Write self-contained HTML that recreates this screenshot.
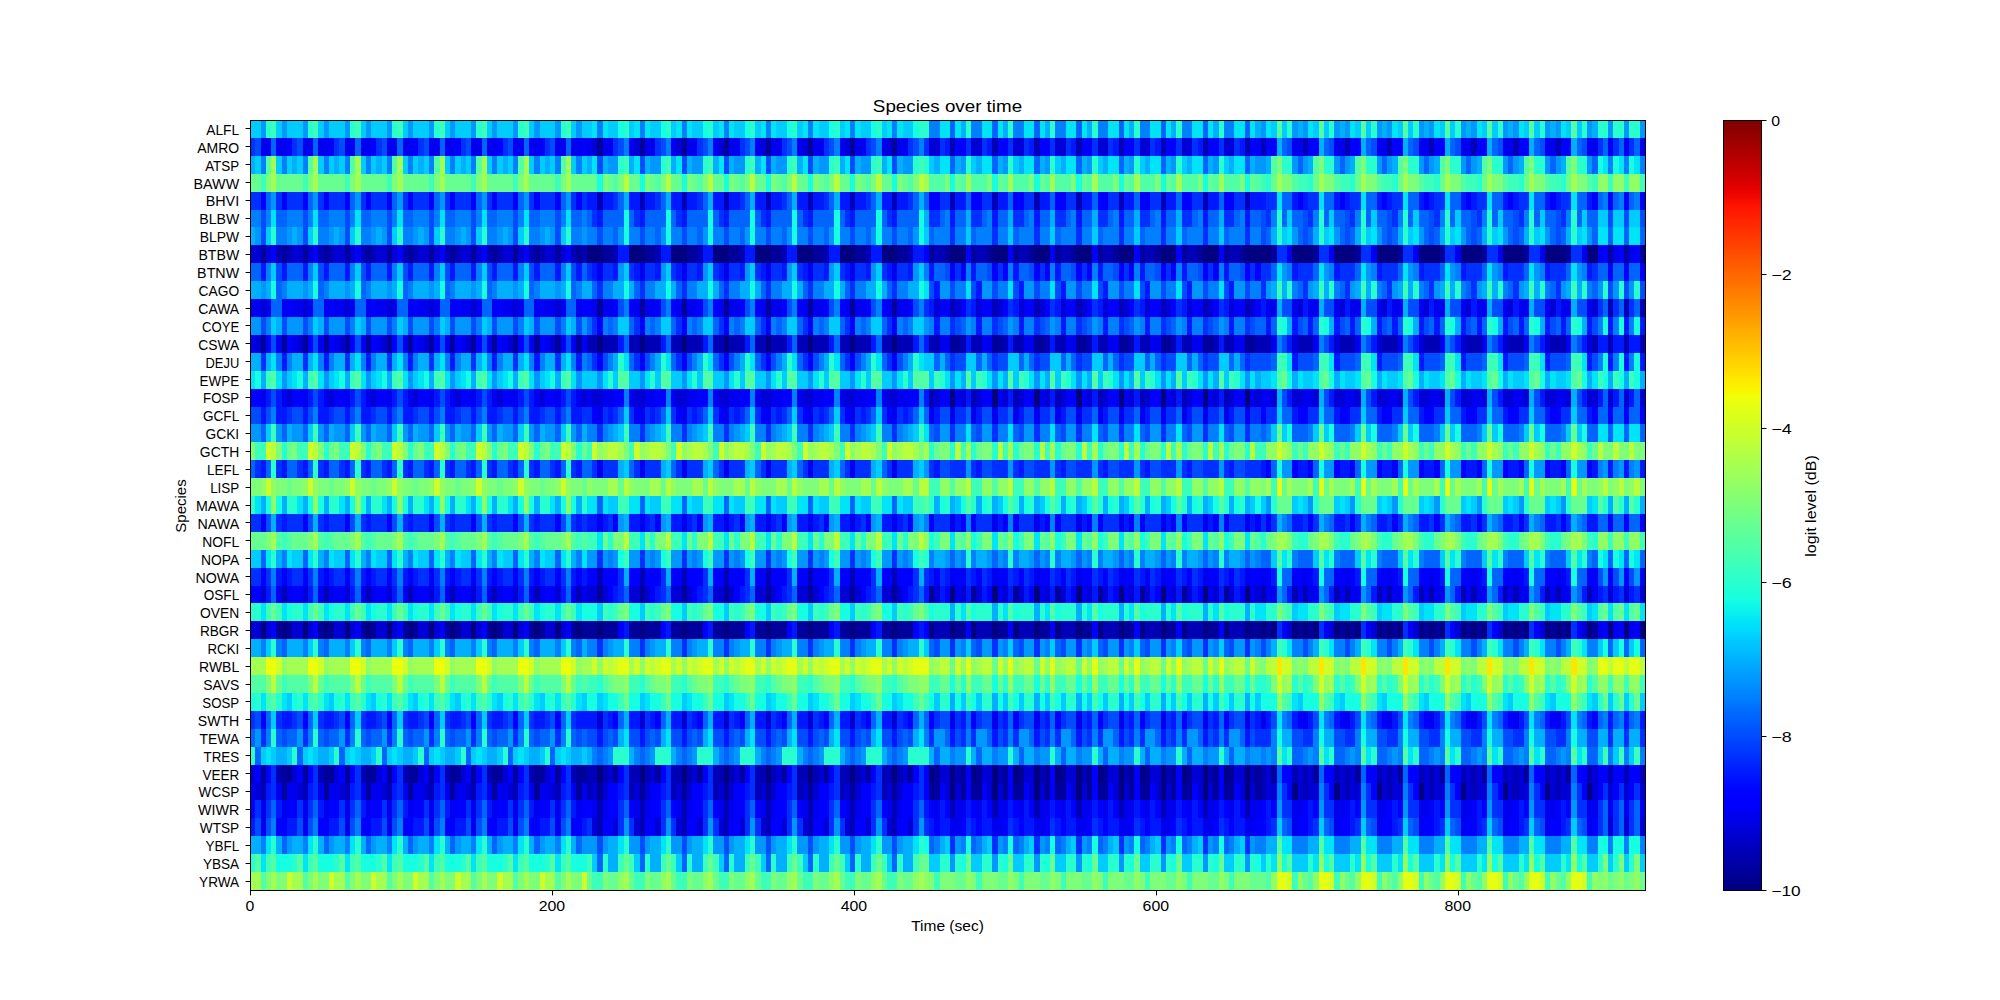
<!DOCTYPE html><html><head><meta charset="utf-8"><title>Species over time</title>
<style>html,body{margin:0;padding:0;background:#fff}svg{display:block}text{font-family:"Liberation Sans",sans-serif;fill:#000}</style></head><body>
<svg width="2000" height="1000" viewBox="0 0 2000 1000">
<rect width="2000" height="1000" fill="#fff"/>
<defs><linearGradient id="cb" x1="0" y1="0" x2="0" y2="1"><stop offset="0.00" stop-color="#800000"/><stop offset="0.01" stop-color="#890000"/><stop offset="0.02" stop-color="#960000"/><stop offset="0.03" stop-color="#9f0000"/><stop offset="0.04" stop-color="#ad0000"/><stop offset="0.05" stop-color="#b60000"/><stop offset="0.06" stop-color="#c40000"/><stop offset="0.07" stop-color="#cd0000"/><stop offset="0.08" stop-color="#da0000"/><stop offset="0.09" stop-color="#e80000"/><stop offset="0.10" stop-color="#f10800"/><stop offset="0.11" stop-color="#ff1300"/><stop offset="0.12" stop-color="#ff1a00"/><stop offset="0.13" stop-color="#ff2500"/><stop offset="0.14" stop-color="#ff2d00"/><stop offset="0.15" stop-color="#ff3800"/><stop offset="0.16" stop-color="#ff3f00"/><stop offset="0.17" stop-color="#ff4a00"/><stop offset="0.18" stop-color="#ff5500"/><stop offset="0.19" stop-color="#ff5d00"/><stop offset="0.20" stop-color="#ff6800"/><stop offset="0.21" stop-color="#ff6f00"/><stop offset="0.22" stop-color="#ff7a00"/><stop offset="0.23" stop-color="#ff8200"/><stop offset="0.24" stop-color="#ff8d00"/><stop offset="0.25" stop-color="#ff9400"/><stop offset="0.26" stop-color="#ff9f00"/><stop offset="0.27" stop-color="#ffab00"/><stop offset="0.28" stop-color="#ffb200"/><stop offset="0.29" stop-color="#ffbd00"/><stop offset="0.30" stop-color="#ffc400"/><stop offset="0.31" stop-color="#ffd000"/><stop offset="0.32" stop-color="#ffd700"/><stop offset="0.33" stop-color="#ffe200"/><stop offset="0.34" stop-color="#feed00"/><stop offset="0.35" stop-color="#f8f500"/><stop offset="0.36" stop-color="#eeff09"/><stop offset="0.37" stop-color="#e7ff0f"/><stop offset="0.38" stop-color="#deff19"/><stop offset="0.39" stop-color="#d7ff1f"/><stop offset="0.40" stop-color="#ceff29"/><stop offset="0.41" stop-color="#c7ff30"/><stop offset="0.42" stop-color="#beff39"/><stop offset="0.43" stop-color="#b4ff43"/><stop offset="0.44" stop-color="#adff49"/><stop offset="0.45" stop-color="#a4ff53"/><stop offset="0.46" stop-color="#9dff5a"/><stop offset="0.47" stop-color="#94ff63"/><stop offset="0.48" stop-color="#8dff6a"/><stop offset="0.49" stop-color="#83ff73"/><stop offset="0.50" stop-color="#7dff7a"/><stop offset="0.51" stop-color="#73ff83"/><stop offset="0.52" stop-color="#6aff8d"/><stop offset="0.53" stop-color="#63ff94"/><stop offset="0.54" stop-color="#5aff9d"/><stop offset="0.55" stop-color="#53ffa4"/><stop offset="0.56" stop-color="#49ffad"/><stop offset="0.57" stop-color="#43ffb4"/><stop offset="0.58" stop-color="#39ffbe"/><stop offset="0.59" stop-color="#30ffc7"/><stop offset="0.60" stop-color="#29ffce"/><stop offset="0.61" stop-color="#1fffd7"/><stop offset="0.62" stop-color="#19ffde"/><stop offset="0.63" stop-color="#0ff8e7"/><stop offset="0.64" stop-color="#09f0ee"/><stop offset="0.65" stop-color="#00e4f8"/><stop offset="0.66" stop-color="#00dcfe"/><stop offset="0.67" stop-color="#00d0ff"/><stop offset="0.68" stop-color="#00c4ff"/><stop offset="0.69" stop-color="#00bcff"/><stop offset="0.70" stop-color="#00b0ff"/><stop offset="0.71" stop-color="#00a8ff"/><stop offset="0.72" stop-color="#009cff"/><stop offset="0.73" stop-color="#0094ff"/><stop offset="0.74" stop-color="#0088ff"/><stop offset="0.75" stop-color="#0080ff"/><stop offset="0.76" stop-color="#0074ff"/><stop offset="0.77" stop-color="#0068ff"/><stop offset="0.78" stop-color="#0060ff"/><stop offset="0.79" stop-color="#0054ff"/><stop offset="0.80" stop-color="#004cff"/><stop offset="0.81" stop-color="#0040ff"/><stop offset="0.82" stop-color="#0038ff"/><stop offset="0.83" stop-color="#002cff"/><stop offset="0.84" stop-color="#0020ff"/><stop offset="0.85" stop-color="#0018ff"/><stop offset="0.86" stop-color="#000cff"/><stop offset="0.87" stop-color="#0004ff"/><stop offset="0.88" stop-color="#0000ff"/><stop offset="0.89" stop-color="#0000ff"/><stop offset="0.90" stop-color="#0000f1"/><stop offset="0.91" stop-color="#0000e8"/><stop offset="0.92" stop-color="#0000da"/><stop offset="0.93" stop-color="#0000cd"/><stop offset="0.94" stop-color="#0000c4"/><stop offset="0.95" stop-color="#0000b6"/><stop offset="0.96" stop-color="#0000ad"/><stop offset="0.97" stop-color="#00009f"/><stop offset="0.98" stop-color="#000096"/><stop offset="0.99" stop-color="#000089"/><stop offset="1.00" stop-color="#000080"/></linearGradient></defs>
<defs>
<g id="clipA">
<rect x="0.000" y="120" width="11.128" height="18" fill="#00ccff"/>
<rect x="10.528" y="120" width="5.864" height="18" fill="#0098ff"/>
<rect x="15.792" y="120" width="5.864" height="18" fill="#29ffce"/>
<rect x="21.057" y="120" width="5.864" height="18" fill="#3cffba"/>
<rect x="26.321" y="120" width="5.864" height="18" fill="#00ccff"/>
<rect x="31.585" y="120" width="5.864" height="18" fill="#0098ff"/>
<rect x="36.849" y="120" width="5.864" height="18" fill="#00ccff"/>
<rect x="0.000" y="138" width="5.864" height="18" fill="#0030ff"/>
<rect x="5.264" y="138" width="5.864" height="18" fill="#004cff"/>
<rect x="10.528" y="138" width="11.128" height="18" fill="#0000f1"/>
<rect x="21.057" y="138" width="5.864" height="18" fill="#0064ff"/>
<rect x="26.321" y="138" width="11.128" height="18" fill="#0000f1"/>
<rect x="36.849" y="138" width="5.864" height="18" fill="#0000ff"/>
<rect x="0.000" y="156" width="5.864" height="18" fill="#00b0ff"/>
<rect x="5.264" y="156" width="5.864" height="18" fill="#00ccff"/>
<rect x="10.528" y="156" width="5.864" height="18" fill="#0080ff"/>
<rect x="15.792" y="156" width="5.864" height="18" fill="#53ffa4"/>
<rect x="21.057" y="156" width="5.864" height="18" fill="#a4ff53"/>
<rect x="26.321" y="156" width="5.864" height="18" fill="#00ccff"/>
<rect x="31.585" y="156" width="5.864" height="18" fill="#0080ff"/>
<rect x="36.849" y="156" width="5.864" height="18" fill="#00ccff"/>
<rect x="0.000" y="174" width="11.128" height="18" fill="#66ff90"/>
<rect x="10.528" y="174" width="5.864" height="18" fill="#3cffba"/>
<rect x="15.792" y="174" width="5.864" height="18" fill="#7dff7a"/>
<rect x="21.057" y="174" width="5.864" height="18" fill="#a4ff53"/>
<rect x="26.321" y="174" width="16.392" height="18" fill="#66ff90"/>
<rect x="0.000" y="192" width="11.128" height="18" fill="#0030ff"/>
<rect x="10.528" y="192" width="5.864" height="18" fill="#0000ff"/>
<rect x="15.792" y="192" width="5.864" height="18" fill="#0064ff"/>
<rect x="21.057" y="192" width="5.864" height="18" fill="#0098ff"/>
<rect x="26.321" y="192" width="5.864" height="18" fill="#0030ff"/>
<rect x="31.585" y="192" width="5.864" height="18" fill="#0000ff"/>
<rect x="36.849" y="192" width="5.864" height="18" fill="#0030ff"/>
<rect x="0.000" y="210" width="11.128" height="17" fill="#0080ff"/>
<rect x="10.528" y="210" width="5.864" height="17" fill="#004cff"/>
<rect x="15.792" y="210" width="5.864" height="17" fill="#0080ff"/>
<rect x="21.057" y="210" width="5.864" height="17" fill="#00e4f8"/>
<rect x="26.321" y="210" width="11.128" height="17" fill="#0064ff"/>
<rect x="36.849" y="210" width="5.864" height="17" fill="#0080ff"/>
<rect x="0.000" y="227" width="5.864" height="18" fill="#00b0ff"/>
<rect x="5.264" y="227" width="5.864" height="18" fill="#0098ff"/>
<rect x="10.528" y="227" width="5.864" height="18" fill="#004cff"/>
<rect x="15.792" y="227" width="5.864" height="18" fill="#00ccff"/>
<rect x="21.057" y="227" width="5.864" height="18" fill="#29ffce"/>
<rect x="26.321" y="227" width="11.128" height="18" fill="#0080ff"/>
<rect x="36.849" y="227" width="5.864" height="18" fill="#0098ff"/>
<rect x="0.000" y="245" width="11.128" height="18" fill="#0000d6"/>
<rect x="10.528" y="245" width="5.864" height="18" fill="#00009b"/>
<rect x="15.792" y="245" width="5.864" height="18" fill="#0000d6"/>
<rect x="21.057" y="245" width="5.864" height="18" fill="#0000ff"/>
<rect x="26.321" y="245" width="5.864" height="18" fill="#0000b6"/>
<rect x="31.585" y="245" width="5.864" height="18" fill="#00009b"/>
<rect x="36.849" y="245" width="5.864" height="18" fill="#0000b6"/>
<rect x="0.000" y="263" width="11.128" height="18" fill="#0064ff"/>
<rect x="10.528" y="263" width="5.864" height="18" fill="#0018ff"/>
<rect x="15.792" y="263" width="5.864" height="18" fill="#0080ff"/>
<rect x="21.057" y="263" width="5.864" height="18" fill="#00ccff"/>
<rect x="26.321" y="263" width="5.864" height="18" fill="#004cff"/>
<rect x="31.585" y="263" width="5.864" height="18" fill="#0018ff"/>
<rect x="36.849" y="263" width="5.864" height="18" fill="#0064ff"/>
<rect x="0.000" y="281" width="11.128" height="18" fill="#00b0ff"/>
<rect x="10.528" y="281" width="5.864" height="18" fill="#0098ff"/>
<rect x="15.792" y="281" width="5.864" height="18" fill="#00b0ff"/>
<rect x="21.057" y="281" width="5.864" height="18" fill="#16ffe1"/>
<rect x="26.321" y="281" width="5.864" height="18" fill="#0064ff"/>
<rect x="31.585" y="281" width="5.864" height="18" fill="#0080ff"/>
<rect x="36.849" y="281" width="5.864" height="18" fill="#00b0ff"/>
<rect x="0.000" y="299" width="11.128" height="18" fill="#0000f1"/>
<rect x="10.528" y="299" width="5.864" height="18" fill="#0000d6"/>
<rect x="15.792" y="299" width="5.864" height="18" fill="#0000f1"/>
<rect x="21.057" y="299" width="11.128" height="18" fill="#0064ff"/>
<rect x="31.585" y="299" width="5.864" height="18" fill="#0000f1"/>
<rect x="36.849" y="299" width="5.864" height="18" fill="#0000ff"/>
<rect x="0.000" y="317" width="11.128" height="18" fill="#0098ff"/>
<rect x="10.528" y="317" width="5.864" height="18" fill="#004cff"/>
<rect x="15.792" y="317" width="5.864" height="18" fill="#0080ff"/>
<rect x="21.057" y="317" width="5.864" height="18" fill="#00ccff"/>
<rect x="26.321" y="317" width="5.864" height="18" fill="#00b0ff"/>
<rect x="31.585" y="317" width="5.864" height="18" fill="#004cff"/>
<rect x="36.849" y="317" width="5.864" height="18" fill="#0098ff"/>
<rect x="0.000" y="335" width="5.864" height="18" fill="#0000f1"/>
<rect x="5.264" y="335" width="5.864" height="18" fill="#0000d6"/>
<rect x="10.528" y="335" width="5.864" height="18" fill="#00009b"/>
<rect x="15.792" y="335" width="5.864" height="18" fill="#0000ff"/>
<rect x="21.057" y="335" width="5.864" height="18" fill="#004cff"/>
<rect x="26.321" y="335" width="5.864" height="18" fill="#0000f1"/>
<rect x="31.585" y="335" width="5.864" height="18" fill="#00009b"/>
<rect x="36.849" y="335" width="5.864" height="18" fill="#0000ff"/>
<rect x="0.000" y="353" width="11.128" height="18" fill="#00b0ff"/>
<rect x="10.528" y="353" width="5.864" height="18" fill="#0030ff"/>
<rect x="15.792" y="353" width="5.864" height="18" fill="#00b0ff"/>
<rect x="21.057" y="353" width="5.864" height="18" fill="#00e4f8"/>
<rect x="26.321" y="353" width="5.864" height="18" fill="#0080ff"/>
<rect x="31.585" y="353" width="5.864" height="18" fill="#0018ff"/>
<rect x="36.849" y="353" width="5.864" height="18" fill="#0080ff"/>
<rect x="0.000" y="371" width="5.864" height="18" fill="#00e4f8"/>
<rect x="5.264" y="371" width="5.864" height="18" fill="#16ffe1"/>
<rect x="10.528" y="371" width="5.864" height="18" fill="#00b0ff"/>
<rect x="15.792" y="371" width="5.864" height="18" fill="#3cffba"/>
<rect x="21.057" y="371" width="5.864" height="18" fill="#53ffa4"/>
<rect x="26.321" y="371" width="5.864" height="18" fill="#00e4f8"/>
<rect x="31.585" y="371" width="5.864" height="18" fill="#0098ff"/>
<rect x="36.849" y="371" width="5.864" height="18" fill="#00ccff"/>
<rect x="0.000" y="389" width="11.128" height="18" fill="#0000ff"/>
<rect x="10.528" y="389" width="5.864" height="18" fill="#0000f1"/>
<rect x="15.792" y="389" width="5.864" height="18" fill="#0018ff"/>
<rect x="21.057" y="389" width="5.864" height="18" fill="#004cff"/>
<rect x="26.321" y="389" width="5.864" height="18" fill="#0018ff"/>
<rect x="31.585" y="389" width="5.864" height="18" fill="#0000f1"/>
<rect x="36.849" y="389" width="5.864" height="18" fill="#0000d6"/>
<rect x="0.000" y="407" width="11.128" height="17" fill="#004cff"/>
<rect x="10.528" y="407" width="5.864" height="17" fill="#0018ff"/>
<rect x="15.792" y="407" width="5.864" height="17" fill="#004cff"/>
<rect x="21.057" y="407" width="5.864" height="17" fill="#0080ff"/>
<rect x="26.321" y="407" width="11.128" height="17" fill="#0018ff"/>
<rect x="36.849" y="407" width="5.864" height="17" fill="#0030ff"/>
<rect x="0.000" y="424" width="11.128" height="18" fill="#0098ff"/>
<rect x="10.528" y="424" width="5.864" height="18" fill="#0064ff"/>
<rect x="15.792" y="424" width="5.864" height="18" fill="#00ccff"/>
<rect x="21.057" y="424" width="5.864" height="18" fill="#3cffba"/>
<rect x="26.321" y="424" width="5.864" height="18" fill="#0098ff"/>
<rect x="31.585" y="424" width="5.864" height="18" fill="#0064ff"/>
<rect x="36.849" y="424" width="5.864" height="18" fill="#00b0ff"/>
<rect x="0.000" y="442" width="5.864" height="18" fill="#7dff7a"/>
<rect x="5.264" y="442" width="11.128" height="18" fill="#3cffba"/>
<rect x="15.792" y="442" width="5.864" height="18" fill="#ceff29"/>
<rect x="21.057" y="442" width="5.864" height="18" fill="#baff3c"/>
<rect x="26.321" y="442" width="5.864" height="18" fill="#7dff7a"/>
<rect x="31.585" y="442" width="5.864" height="18" fill="#29ffce"/>
<rect x="36.849" y="442" width="5.864" height="18" fill="#66ff90"/>
<rect x="0.000" y="460" width="5.864" height="18" fill="#0064ff"/>
<rect x="5.264" y="460" width="5.864" height="18" fill="#0030ff"/>
<rect x="10.528" y="460" width="5.864" height="18" fill="#0018ff"/>
<rect x="15.792" y="460" width="5.864" height="18" fill="#0064ff"/>
<rect x="21.057" y="460" width="5.864" height="18" fill="#29ffce"/>
<rect x="26.321" y="460" width="5.864" height="18" fill="#0030ff"/>
<rect x="31.585" y="460" width="5.864" height="18" fill="#0018ff"/>
<rect x="36.849" y="460" width="5.864" height="18" fill="#0064ff"/>
<rect x="0.000" y="478" width="11.128" height="18" fill="#7dff7a"/>
<rect x="10.528" y="478" width="5.864" height="18" fill="#90ff66"/>
<rect x="15.792" y="478" width="5.864" height="18" fill="#ceff29"/>
<rect x="21.057" y="478" width="5.864" height="18" fill="#90ff66"/>
<rect x="26.321" y="478" width="11.128" height="18" fill="#7dff7a"/>
<rect x="36.849" y="478" width="5.864" height="18" fill="#66ff90"/>
<rect x="0.000" y="496" width="5.864" height="18" fill="#29ffce"/>
<rect x="5.264" y="496" width="5.864" height="18" fill="#00e4f8"/>
<rect x="10.528" y="496" width="5.864" height="18" fill="#00b0ff"/>
<rect x="15.792" y="496" width="5.864" height="18" fill="#16ffe1"/>
<rect x="21.057" y="496" width="5.864" height="18" fill="#90ff66"/>
<rect x="26.321" y="496" width="5.864" height="18" fill="#16ffe1"/>
<rect x="31.585" y="496" width="5.864" height="18" fill="#00b0ff"/>
<rect x="36.849" y="496" width="5.864" height="18" fill="#29ffce"/>
<rect x="0.000" y="514" width="11.128" height="18" fill="#0030ff"/>
<rect x="10.528" y="514" width="5.864" height="18" fill="#0000ff"/>
<rect x="15.792" y="514" width="5.864" height="18" fill="#004cff"/>
<rect x="21.057" y="514" width="5.864" height="18" fill="#00b0ff"/>
<rect x="26.321" y="514" width="5.864" height="18" fill="#0030ff"/>
<rect x="31.585" y="514" width="5.864" height="18" fill="#0018ff"/>
<rect x="36.849" y="514" width="5.864" height="18" fill="#0030ff"/>
<rect x="0.000" y="532" width="16.392" height="18" fill="#66ff90"/>
<rect x="15.792" y="532" width="5.864" height="18" fill="#7dff7a"/>
<rect x="21.057" y="532" width="5.864" height="18" fill="#a4ff53"/>
<rect x="26.321" y="532" width="5.864" height="18" fill="#53ffa4"/>
<rect x="31.585" y="532" width="5.864" height="18" fill="#3cffba"/>
<rect x="36.849" y="532" width="5.864" height="18" fill="#53ffa4"/>
<rect x="0.000" y="550" width="11.128" height="18" fill="#00ccff"/>
<rect x="10.528" y="550" width="5.864" height="18" fill="#0064ff"/>
<rect x="15.792" y="550" width="5.864" height="18" fill="#00e4f8"/>
<rect x="21.057" y="550" width="5.864" height="18" fill="#29ffce"/>
<rect x="26.321" y="550" width="5.864" height="18" fill="#00b0ff"/>
<rect x="31.585" y="550" width="5.864" height="18" fill="#0080ff"/>
<rect x="36.849" y="550" width="5.864" height="18" fill="#00e4f8"/>
<rect x="0.000" y="568" width="11.128" height="18" fill="#0030ff"/>
<rect x="10.528" y="568" width="5.864" height="18" fill="#0000ff"/>
<rect x="15.792" y="568" width="5.864" height="18" fill="#0030ff"/>
<rect x="21.057" y="568" width="5.864" height="18" fill="#0080ff"/>
<rect x="26.321" y="568" width="5.864" height="18" fill="#0018ff"/>
<rect x="31.585" y="568" width="5.864" height="18" fill="#0000ff"/>
<rect x="36.849" y="568" width="5.864" height="18" fill="#0018ff"/>
<rect x="0.000" y="586" width="11.128" height="17" fill="#0000ff"/>
<rect x="10.528" y="586" width="5.864" height="17" fill="#0000d6"/>
<rect x="15.792" y="586" width="5.864" height="17" fill="#0018ff"/>
<rect x="21.057" y="586" width="5.864" height="17" fill="#0064ff"/>
<rect x="26.321" y="586" width="5.864" height="17" fill="#0000f1"/>
<rect x="31.585" y="586" width="5.864" height="17" fill="#0000b6"/>
<rect x="36.849" y="586" width="5.864" height="17" fill="#0000f1"/>
<rect x="0.000" y="603" width="11.128" height="18" fill="#29ffce"/>
<rect x="10.528" y="603" width="5.864" height="18" fill="#00e4f8"/>
<rect x="15.792" y="603" width="5.864" height="18" fill="#3cffba"/>
<rect x="21.057" y="603" width="5.864" height="18" fill="#66ff90"/>
<rect x="26.321" y="603" width="5.864" height="18" fill="#3cffba"/>
<rect x="31.585" y="603" width="5.864" height="18" fill="#00e4f8"/>
<rect x="36.849" y="603" width="5.864" height="18" fill="#16ffe1"/>
<rect x="0.000" y="621" width="11.128" height="18" fill="#0000d6"/>
<rect x="10.528" y="621" width="5.864" height="18" fill="#000080"/>
<rect x="15.792" y="621" width="5.864" height="18" fill="#0000d6"/>
<rect x="21.057" y="621" width="5.864" height="18" fill="#0000ff"/>
<rect x="26.321" y="621" width="5.864" height="18" fill="#00009b"/>
<rect x="31.585" y="621" width="5.864" height="18" fill="#000080"/>
<rect x="36.849" y="621" width="5.864" height="18" fill="#00009b"/>
<rect x="0.000" y="639" width="11.128" height="18" fill="#00b0ff"/>
<rect x="10.528" y="639" width="5.864" height="18" fill="#0080ff"/>
<rect x="15.792" y="639" width="5.864" height="18" fill="#00ccff"/>
<rect x="21.057" y="639" width="5.864" height="18" fill="#29ffce"/>
<rect x="26.321" y="639" width="5.864" height="18" fill="#0080ff"/>
<rect x="31.585" y="639" width="5.864" height="18" fill="#0064ff"/>
<rect x="36.849" y="639" width="5.864" height="18" fill="#00b0ff"/>
<rect x="0.000" y="657" width="16.392" height="18" fill="#a4ff53"/>
<rect x="15.792" y="657" width="11.128" height="18" fill="#ebff0c"/>
<rect x="26.321" y="657" width="5.864" height="18" fill="#ceff29"/>
<rect x="31.585" y="657" width="5.864" height="18" fill="#90ff66"/>
<rect x="36.849" y="657" width="5.864" height="18" fill="#a4ff53"/>
<rect x="0.000" y="675" width="16.392" height="18" fill="#53ffa4"/>
<rect x="15.792" y="675" width="5.864" height="18" fill="#7dff7a"/>
<rect x="21.057" y="675" width="5.864" height="18" fill="#baff3c"/>
<rect x="26.321" y="675" width="5.864" height="18" fill="#66ff90"/>
<rect x="31.585" y="675" width="5.864" height="18" fill="#3cffba"/>
<rect x="36.849" y="675" width="5.864" height="18" fill="#53ffa4"/>
<rect x="0.000" y="693" width="5.864" height="18" fill="#16ffe1"/>
<rect x="5.264" y="693" width="5.864" height="18" fill="#29ffce"/>
<rect x="10.528" y="693" width="5.864" height="18" fill="#00e4f8"/>
<rect x="15.792" y="693" width="5.864" height="18" fill="#3cffba"/>
<rect x="21.057" y="693" width="5.864" height="18" fill="#53ffa4"/>
<rect x="26.321" y="693" width="5.864" height="18" fill="#29ffce"/>
<rect x="31.585" y="693" width="5.864" height="18" fill="#00e4f8"/>
<rect x="36.849" y="693" width="5.864" height="18" fill="#00ccff"/>
<rect x="0.000" y="711" width="5.864" height="18" fill="#0030ff"/>
<rect x="5.264" y="711" width="5.864" height="18" fill="#004cff"/>
<rect x="10.528" y="711" width="5.864" height="18" fill="#0000ff"/>
<rect x="15.792" y="711" width="5.864" height="18" fill="#0064ff"/>
<rect x="21.057" y="711" width="5.864" height="18" fill="#00ccff"/>
<rect x="26.321" y="711" width="5.864" height="18" fill="#0030ff"/>
<rect x="31.585" y="711" width="11.128" height="18" fill="#0018ff"/>
<rect x="0.000" y="729" width="5.864" height="18" fill="#0064ff"/>
<rect x="5.264" y="729" width="5.864" height="18" fill="#0098ff"/>
<rect x="10.528" y="729" width="5.864" height="18" fill="#0030ff"/>
<rect x="15.792" y="729" width="5.864" height="18" fill="#0080ff"/>
<rect x="21.057" y="729" width="5.864" height="18" fill="#29ffce"/>
<rect x="26.321" y="729" width="5.864" height="18" fill="#0064ff"/>
<rect x="31.585" y="729" width="5.864" height="18" fill="#004cff"/>
<rect x="36.849" y="729" width="5.864" height="18" fill="#0064ff"/>
<rect x="0.000" y="747" width="5.864" height="18" fill="#29ffce"/>
<rect x="5.264" y="747" width="5.864" height="18" fill="#0064ff"/>
<rect x="10.528" y="747" width="5.864" height="18" fill="#00ccff"/>
<rect x="15.792" y="747" width="5.864" height="18" fill="#00e4f8"/>
<rect x="21.057" y="747" width="5.864" height="18" fill="#00ccff"/>
<rect x="26.321" y="747" width="11.128" height="18" fill="#00b0ff"/>
<rect x="36.849" y="747" width="5.864" height="18" fill="#00ccff"/>
<rect x="0.000" y="765" width="5.864" height="18" fill="#0000d6"/>
<rect x="5.264" y="765" width="5.864" height="18" fill="#0000ff"/>
<rect x="10.528" y="765" width="5.864" height="18" fill="#00009b"/>
<rect x="15.792" y="765" width="5.864" height="18" fill="#0000ff"/>
<rect x="21.057" y="765" width="5.864" height="18" fill="#0030ff"/>
<rect x="26.321" y="765" width="5.864" height="18" fill="#0000b6"/>
<rect x="31.585" y="765" width="11.128" height="18" fill="#00009b"/>
<rect x="0.000" y="783" width="5.864" height="17" fill="#0000f1"/>
<rect x="5.264" y="783" width="5.864" height="17" fill="#0000d6"/>
<rect x="10.528" y="783" width="5.864" height="17" fill="#0000b6"/>
<rect x="15.792" y="783" width="5.864" height="17" fill="#0018ff"/>
<rect x="21.057" y="783" width="5.864" height="17" fill="#0030ff"/>
<rect x="26.321" y="783" width="5.864" height="17" fill="#0000f1"/>
<rect x="31.585" y="783" width="5.864" height="17" fill="#00009b"/>
<rect x="36.849" y="783" width="5.864" height="17" fill="#0000f1"/>
<rect x="0.000" y="800" width="5.864" height="18" fill="#0000ff"/>
<rect x="5.264" y="800" width="5.864" height="18" fill="#0030ff"/>
<rect x="10.528" y="800" width="5.864" height="18" fill="#0000f1"/>
<rect x="15.792" y="800" width="5.864" height="18" fill="#0030ff"/>
<rect x="21.057" y="800" width="5.864" height="18" fill="#0064ff"/>
<rect x="26.321" y="800" width="5.864" height="18" fill="#0018ff"/>
<rect x="31.585" y="800" width="5.864" height="18" fill="#0000f1"/>
<rect x="36.849" y="800" width="5.864" height="18" fill="#0000ff"/>
<rect x="0.000" y="818" width="5.864" height="18" fill="#0018ff"/>
<rect x="5.264" y="818" width="5.864" height="18" fill="#004cff"/>
<rect x="10.528" y="818" width="5.864" height="18" fill="#0000f1"/>
<rect x="15.792" y="818" width="5.864" height="18" fill="#004cff"/>
<rect x="21.057" y="818" width="5.864" height="18" fill="#0080ff"/>
<rect x="26.321" y="818" width="11.128" height="18" fill="#0000ff"/>
<rect x="36.849" y="818" width="5.864" height="18" fill="#0018ff"/>
<rect x="0.000" y="836" width="11.128" height="18" fill="#00b0ff"/>
<rect x="10.528" y="836" width="5.864" height="18" fill="#0080ff"/>
<rect x="15.792" y="836" width="5.864" height="18" fill="#00e4f8"/>
<rect x="21.057" y="836" width="5.864" height="18" fill="#29ffce"/>
<rect x="26.321" y="836" width="5.864" height="18" fill="#00b0ff"/>
<rect x="31.585" y="836" width="5.864" height="18" fill="#0064ff"/>
<rect x="36.849" y="836" width="5.864" height="18" fill="#0098ff"/>
<rect x="0.000" y="854" width="5.864" height="18" fill="#29ffce"/>
<rect x="5.264" y="854" width="5.864" height="18" fill="#53ffa4"/>
<rect x="10.528" y="854" width="5.864" height="18" fill="#00e4f8"/>
<rect x="15.792" y="854" width="5.864" height="18" fill="#3cffba"/>
<rect x="21.057" y="854" width="5.864" height="18" fill="#53ffa4"/>
<rect x="26.321" y="854" width="16.392" height="18" fill="#16ffe1"/>
<rect x="0.000" y="872" width="11.128" height="18" fill="#a4ff53"/>
<rect x="10.528" y="872" width="5.864" height="18" fill="#53ffa4"/>
<rect x="15.792" y="872" width="5.864" height="18" fill="#7dff7a"/>
<rect x="21.057" y="872" width="5.864" height="18" fill="#a4ff53"/>
<rect x="26.321" y="872" width="11.128" height="18" fill="#7dff7a"/>
<rect x="36.849" y="872" width="5.864" height="18" fill="#ceff29"/>
</g>
<g id="clipB">
<rect x="0.000" y="120" width="5.864" height="18" fill="#00ccff"/>
<rect x="5.264" y="120" width="5.864" height="18" fill="#00e4f8"/>
<rect x="10.528" y="120" width="5.864" height="18" fill="#0080ff"/>
<rect x="15.792" y="120" width="5.864" height="18" fill="#00e4f8"/>
<rect x="21.057" y="120" width="11.128" height="18" fill="#00ccff"/>
<rect x="31.585" y="120" width="5.864" height="18" fill="#16ffe1"/>
<rect x="36.849" y="120" width="5.864" height="18" fill="#29ffce"/>
<rect x="0.000" y="138" width="5.864" height="18" fill="#0000f1"/>
<rect x="5.264" y="138" width="5.864" height="18" fill="#0000d6"/>
<rect x="10.528" y="138" width="5.864" height="18" fill="#00009b"/>
<rect x="15.792" y="138" width="11.128" height="18" fill="#0000f1"/>
<rect x="26.321" y="138" width="5.864" height="18" fill="#0030ff"/>
<rect x="31.585" y="138" width="5.864" height="18" fill="#004cff"/>
<rect x="36.849" y="138" width="5.864" height="18" fill="#0080ff"/>
<rect x="0.000" y="156" width="5.864" height="18" fill="#00b0ff"/>
<rect x="5.264" y="156" width="5.864" height="18" fill="#00e4f8"/>
<rect x="10.528" y="156" width="5.864" height="18" fill="#004cff"/>
<rect x="15.792" y="156" width="5.864" height="18" fill="#00b0ff"/>
<rect x="21.057" y="156" width="11.128" height="18" fill="#0098ff"/>
<rect x="31.585" y="156" width="5.864" height="18" fill="#29ffce"/>
<rect x="36.849" y="156" width="5.864" height="18" fill="#3cffba"/>
<rect x="0.000" y="174" width="11.128" height="18" fill="#66ff90"/>
<rect x="10.528" y="174" width="5.864" height="18" fill="#16ffe1"/>
<rect x="15.792" y="174" width="5.864" height="18" fill="#7dff7a"/>
<rect x="21.057" y="174" width="5.864" height="18" fill="#66ff90"/>
<rect x="26.321" y="174" width="5.864" height="18" fill="#53ffa4"/>
<rect x="31.585" y="174" width="5.864" height="18" fill="#7dff7a"/>
<rect x="36.849" y="174" width="5.864" height="18" fill="#baff3c"/>
<rect x="0.000" y="192" width="11.128" height="18" fill="#0018ff"/>
<rect x="10.528" y="192" width="5.864" height="18" fill="#0000b6"/>
<rect x="15.792" y="192" width="11.128" height="18" fill="#0018ff"/>
<rect x="26.321" y="192" width="5.864" height="18" fill="#0030ff"/>
<rect x="31.585" y="192" width="5.864" height="18" fill="#0064ff"/>
<rect x="36.849" y="192" width="5.864" height="18" fill="#00b0ff"/>
<rect x="0.000" y="210" width="5.864" height="17" fill="#0064ff"/>
<rect x="5.264" y="210" width="5.864" height="17" fill="#0030ff"/>
<rect x="10.528" y="210" width="5.864" height="17" fill="#0018ff"/>
<rect x="15.792" y="210" width="21.657" height="17" fill="#0064ff"/>
<rect x="36.849" y="210" width="5.864" height="17" fill="#16ffe1"/>
<rect x="0.000" y="227" width="11.128" height="18" fill="#0080ff"/>
<rect x="10.528" y="227" width="5.864" height="18" fill="#004cff"/>
<rect x="15.792" y="227" width="11.128" height="18" fill="#0080ff"/>
<rect x="26.321" y="227" width="5.864" height="18" fill="#0064ff"/>
<rect x="31.585" y="227" width="5.864" height="18" fill="#0098ff"/>
<rect x="36.849" y="227" width="5.864" height="18" fill="#16ffe1"/>
<rect x="0.000" y="245" width="16.392" height="18" fill="#000080"/>
<rect x="15.792" y="245" width="11.128" height="18" fill="#00009b"/>
<rect x="26.321" y="245" width="5.864" height="18" fill="#0000b6"/>
<rect x="31.585" y="245" width="11.128" height="18" fill="#0018ff"/>
<rect x="0.000" y="263" width="5.864" height="18" fill="#0030ff"/>
<rect x="5.264" y="263" width="5.864" height="18" fill="#0018ff"/>
<rect x="10.528" y="263" width="5.864" height="18" fill="#0000f1"/>
<rect x="15.792" y="263" width="11.128" height="18" fill="#0030ff"/>
<rect x="26.321" y="263" width="5.864" height="18" fill="#0018ff"/>
<rect x="31.585" y="263" width="5.864" height="18" fill="#0098ff"/>
<rect x="36.849" y="263" width="5.864" height="18" fill="#00ccff"/>
<rect x="0.000" y="281" width="5.864" height="18" fill="#00b0ff"/>
<rect x="5.264" y="281" width="5.864" height="18" fill="#0064ff"/>
<rect x="10.528" y="281" width="5.864" height="18" fill="#0030ff"/>
<rect x="15.792" y="281" width="11.128" height="18" fill="#0080ff"/>
<rect x="26.321" y="281" width="11.128" height="18" fill="#00b0ff"/>
<rect x="36.849" y="281" width="5.864" height="18" fill="#16ffe1"/>
<rect x="0.000" y="299" width="5.864" height="18" fill="#0000ff"/>
<rect x="5.264" y="299" width="5.864" height="18" fill="#0000f1"/>
<rect x="10.528" y="299" width="5.864" height="18" fill="#00009b"/>
<rect x="15.792" y="299" width="11.128" height="18" fill="#0000f1"/>
<rect x="26.321" y="299" width="5.864" height="18" fill="#0000ff"/>
<rect x="31.585" y="299" width="5.864" height="18" fill="#004cff"/>
<rect x="36.849" y="299" width="5.864" height="18" fill="#0080ff"/>
<rect x="0.000" y="317" width="5.864" height="18" fill="#0064ff"/>
<rect x="5.264" y="317" width="5.864" height="18" fill="#0030ff"/>
<rect x="10.528" y="317" width="5.864" height="18" fill="#0000ff"/>
<rect x="15.792" y="317" width="5.864" height="18" fill="#0080ff"/>
<rect x="21.057" y="317" width="5.864" height="18" fill="#0064ff"/>
<rect x="26.321" y="317" width="5.864" height="18" fill="#0080ff"/>
<rect x="31.585" y="317" width="11.128" height="18" fill="#00ccff"/>
<rect x="0.000" y="335" width="11.128" height="18" fill="#0000b6"/>
<rect x="10.528" y="335" width="5.864" height="18" fill="#000080"/>
<rect x="15.792" y="335" width="16.392" height="18" fill="#0000b6"/>
<rect x="31.585" y="335" width="5.864" height="18" fill="#0018ff"/>
<rect x="36.849" y="335" width="5.864" height="18" fill="#0064ff"/>
<rect x="0.000" y="353" width="5.864" height="18" fill="#0064ff"/>
<rect x="5.264" y="353" width="5.864" height="18" fill="#0030ff"/>
<rect x="10.528" y="353" width="5.864" height="18" fill="#0000ff"/>
<rect x="15.792" y="353" width="5.864" height="18" fill="#004cff"/>
<rect x="21.057" y="353" width="5.864" height="18" fill="#0080ff"/>
<rect x="26.321" y="353" width="5.864" height="18" fill="#00b0ff"/>
<rect x="31.585" y="353" width="5.864" height="18" fill="#29ffce"/>
<rect x="36.849" y="353" width="5.864" height="18" fill="#00e4f8"/>
<rect x="0.000" y="371" width="11.128" height="18" fill="#00ccff"/>
<rect x="10.528" y="371" width="5.864" height="18" fill="#0098ff"/>
<rect x="15.792" y="371" width="5.864" height="18" fill="#00e4f8"/>
<rect x="21.057" y="371" width="5.864" height="18" fill="#29ffce"/>
<rect x="26.321" y="371" width="5.864" height="18" fill="#00ccff"/>
<rect x="31.585" y="371" width="11.128" height="18" fill="#53ffa4"/>
<rect x="0.000" y="389" width="5.864" height="18" fill="#0000f1"/>
<rect x="5.264" y="389" width="11.128" height="18" fill="#0000d6"/>
<rect x="15.792" y="389" width="11.128" height="18" fill="#0000f1"/>
<rect x="26.321" y="389" width="11.128" height="18" fill="#0000ff"/>
<rect x="36.849" y="389" width="5.864" height="18" fill="#0080ff"/>
<rect x="0.000" y="407" width="5.864" height="17" fill="#0030ff"/>
<rect x="5.264" y="407" width="5.864" height="17" fill="#0000ff"/>
<rect x="10.528" y="407" width="5.864" height="17" fill="#0000f1"/>
<rect x="15.792" y="407" width="5.864" height="17" fill="#0030ff"/>
<rect x="21.057" y="407" width="5.864" height="17" fill="#0018ff"/>
<rect x="26.321" y="407" width="5.864" height="17" fill="#0030ff"/>
<rect x="31.585" y="407" width="5.864" height="17" fill="#0064ff"/>
<rect x="36.849" y="407" width="5.864" height="17" fill="#00ccff"/>
<rect x="0.000" y="424" width="11.128" height="18" fill="#0080ff"/>
<rect x="10.528" y="424" width="5.864" height="18" fill="#0030ff"/>
<rect x="15.792" y="424" width="5.864" height="18" fill="#0080ff"/>
<rect x="21.057" y="424" width="5.864" height="18" fill="#0098ff"/>
<rect x="26.321" y="424" width="5.864" height="18" fill="#00b0ff"/>
<rect x="31.585" y="424" width="5.864" height="18" fill="#00ccff"/>
<rect x="36.849" y="424" width="5.864" height="18" fill="#3cffba"/>
<rect x="0.000" y="442" width="5.864" height="18" fill="#3cffba"/>
<rect x="5.264" y="442" width="5.864" height="18" fill="#ceff29"/>
<rect x="10.528" y="442" width="5.864" height="18" fill="#90ff66"/>
<rect x="15.792" y="442" width="5.864" height="18" fill="#a4ff53"/>
<rect x="21.057" y="442" width="11.128" height="18" fill="#baff3c"/>
<rect x="31.585" y="442" width="5.864" height="18" fill="#a4ff53"/>
<rect x="36.849" y="442" width="5.864" height="18" fill="#7dff7a"/>
<rect x="0.000" y="460" width="5.864" height="18" fill="#0064ff"/>
<rect x="5.264" y="460" width="5.864" height="18" fill="#0030ff"/>
<rect x="10.528" y="460" width="5.864" height="18" fill="#0000f1"/>
<rect x="15.792" y="460" width="16.392" height="18" fill="#0030ff"/>
<rect x="31.585" y="460" width="5.864" height="18" fill="#00b0ff"/>
<rect x="36.849" y="460" width="5.864" height="18" fill="#00ccff"/>
<rect x="0.000" y="478" width="5.864" height="18" fill="#90ff66"/>
<rect x="5.264" y="478" width="16.392" height="18" fill="#7dff7a"/>
<rect x="21.057" y="478" width="11.128" height="18" fill="#a4ff53"/>
<rect x="31.585" y="478" width="5.864" height="18" fill="#66ff90"/>
<rect x="36.849" y="478" width="5.864" height="18" fill="#baff3c"/>
<rect x="0.000" y="496" width="11.128" height="18" fill="#00e4f8"/>
<rect x="10.528" y="496" width="5.864" height="18" fill="#0064ff"/>
<rect x="15.792" y="496" width="5.864" height="18" fill="#00e4f8"/>
<rect x="21.057" y="496" width="11.128" height="18" fill="#00ccff"/>
<rect x="31.585" y="496" width="11.128" height="18" fill="#3cffba"/>
<rect x="0.000" y="514" width="11.128" height="18" fill="#0018ff"/>
<rect x="10.528" y="514" width="5.864" height="18" fill="#0000f1"/>
<rect x="15.792" y="514" width="5.864" height="18" fill="#0018ff"/>
<rect x="21.057" y="514" width="5.864" height="18" fill="#0030ff"/>
<rect x="26.321" y="514" width="5.864" height="18" fill="#0000ff"/>
<rect x="31.585" y="514" width="5.864" height="18" fill="#0098ff"/>
<rect x="36.849" y="514" width="5.864" height="18" fill="#00b0ff"/>
<rect x="0.000" y="532" width="11.128" height="18" fill="#3cffba"/>
<rect x="10.528" y="532" width="5.864" height="18" fill="#00e4f8"/>
<rect x="15.792" y="532" width="5.864" height="18" fill="#66ff90"/>
<rect x="21.057" y="532" width="5.864" height="18" fill="#29ffce"/>
<rect x="26.321" y="532" width="11.128" height="18" fill="#7dff7a"/>
<rect x="36.849" y="532" width="5.864" height="18" fill="#baff3c"/>
<rect x="0.000" y="550" width="11.128" height="18" fill="#0098ff"/>
<rect x="10.528" y="550" width="5.864" height="18" fill="#0030ff"/>
<rect x="15.792" y="550" width="5.864" height="18" fill="#0098ff"/>
<rect x="21.057" y="550" width="5.864" height="18" fill="#0080ff"/>
<rect x="26.321" y="550" width="5.864" height="18" fill="#0098ff"/>
<rect x="31.585" y="550" width="5.864" height="18" fill="#16ffe1"/>
<rect x="36.849" y="550" width="5.864" height="18" fill="#3cffba"/>
<rect x="0.000" y="568" width="11.128" height="18" fill="#0000ff"/>
<rect x="10.528" y="568" width="5.864" height="18" fill="#0000b6"/>
<rect x="15.792" y="568" width="16.392" height="18" fill="#0000ff"/>
<rect x="31.585" y="568" width="5.864" height="18" fill="#0030ff"/>
<rect x="36.849" y="568" width="5.864" height="18" fill="#00b0ff"/>
<rect x="0.000" y="586" width="11.128" height="17" fill="#0000d6"/>
<rect x="10.528" y="586" width="5.864" height="17" fill="#00009b"/>
<rect x="15.792" y="586" width="5.864" height="17" fill="#0000d6"/>
<rect x="21.057" y="586" width="5.864" height="17" fill="#0000ff"/>
<rect x="26.321" y="586" width="5.864" height="17" fill="#0018ff"/>
<rect x="31.585" y="586" width="5.864" height="17" fill="#0030ff"/>
<rect x="36.849" y="586" width="5.864" height="17" fill="#0064ff"/>
<rect x="0.000" y="603" width="11.128" height="18" fill="#16ffe1"/>
<rect x="10.528" y="603" width="5.864" height="18" fill="#00ccff"/>
<rect x="15.792" y="603" width="5.864" height="18" fill="#3cffba"/>
<rect x="21.057" y="603" width="5.864" height="18" fill="#29ffce"/>
<rect x="26.321" y="603" width="5.864" height="18" fill="#3cffba"/>
<rect x="31.585" y="603" width="5.864" height="18" fill="#66ff90"/>
<rect x="36.849" y="603" width="5.864" height="18" fill="#7dff7a"/>
<rect x="0.000" y="621" width="11.128" height="18" fill="#00009b"/>
<rect x="10.528" y="621" width="5.864" height="18" fill="#000080"/>
<rect x="15.792" y="621" width="16.392" height="18" fill="#00009b"/>
<rect x="31.585" y="621" width="5.864" height="18" fill="#0000ff"/>
<rect x="36.849" y="621" width="5.864" height="18" fill="#0018ff"/>
<rect x="0.000" y="639" width="11.128" height="18" fill="#0080ff"/>
<rect x="10.528" y="639" width="5.864" height="18" fill="#0030ff"/>
<rect x="15.792" y="639" width="5.864" height="18" fill="#0080ff"/>
<rect x="21.057" y="639" width="5.864" height="18" fill="#0098ff"/>
<rect x="26.321" y="639" width="11.128" height="18" fill="#00b0ff"/>
<rect x="36.849" y="639" width="5.864" height="18" fill="#29ffce"/>
<rect x="0.000" y="657" width="5.864" height="18" fill="#a4ff53"/>
<rect x="5.264" y="657" width="5.864" height="18" fill="#ceff29"/>
<rect x="10.528" y="657" width="5.864" height="18" fill="#90ff66"/>
<rect x="15.792" y="657" width="5.864" height="18" fill="#ceff29"/>
<rect x="21.057" y="657" width="5.864" height="18" fill="#baff3c"/>
<rect x="26.321" y="657" width="5.864" height="18" fill="#ceff29"/>
<rect x="31.585" y="657" width="11.128" height="18" fill="#e4ff13"/>
<rect x="0.000" y="675" width="11.128" height="18" fill="#3cffba"/>
<rect x="10.528" y="675" width="5.864" height="18" fill="#29ffce"/>
<rect x="15.792" y="675" width="5.864" height="18" fill="#53ffa4"/>
<rect x="21.057" y="675" width="5.864" height="18" fill="#66ff90"/>
<rect x="26.321" y="675" width="11.128" height="18" fill="#7dff7a"/>
<rect x="36.849" y="675" width="5.864" height="18" fill="#90ff66"/>
<rect x="0.000" y="693" width="11.128" height="18" fill="#16ffe1"/>
<rect x="10.528" y="693" width="5.864" height="18" fill="#00ccff"/>
<rect x="15.792" y="693" width="5.864" height="18" fill="#00e4f8"/>
<rect x="21.057" y="693" width="11.128" height="18" fill="#16ffe1"/>
<rect x="31.585" y="693" width="5.864" height="18" fill="#3cffba"/>
<rect x="36.849" y="693" width="5.864" height="18" fill="#66ff90"/>
<rect x="0.000" y="711" width="11.128" height="18" fill="#0018ff"/>
<rect x="10.528" y="711" width="5.864" height="18" fill="#0000d6"/>
<rect x="15.792" y="711" width="5.864" height="18" fill="#0030ff"/>
<rect x="21.057" y="711" width="5.864" height="18" fill="#0018ff"/>
<rect x="26.321" y="711" width="5.864" height="18" fill="#0000ff"/>
<rect x="31.585" y="711" width="5.864" height="18" fill="#0064ff"/>
<rect x="36.849" y="711" width="5.864" height="18" fill="#00b0ff"/>
<rect x="0.000" y="729" width="11.128" height="18" fill="#004cff"/>
<rect x="10.528" y="729" width="5.864" height="18" fill="#0018ff"/>
<rect x="15.792" y="729" width="5.864" height="18" fill="#004cff"/>
<rect x="21.057" y="729" width="5.864" height="18" fill="#0064ff"/>
<rect x="26.321" y="729" width="5.864" height="18" fill="#004cff"/>
<rect x="31.585" y="729" width="5.864" height="18" fill="#00b0ff"/>
<rect x="36.849" y="729" width="5.864" height="18" fill="#00e4f8"/>
<rect x="0.000" y="747" width="5.864" height="18" fill="#00b0ff"/>
<rect x="5.264" y="747" width="5.864" height="18" fill="#0080ff"/>
<rect x="10.528" y="747" width="5.864" height="18" fill="#0064ff"/>
<rect x="15.792" y="747" width="5.864" height="18" fill="#0080ff"/>
<rect x="21.057" y="747" width="5.864" height="18" fill="#0098ff"/>
<rect x="26.321" y="747" width="16.392" height="18" fill="#29ffce"/>
<rect x="0.000" y="765" width="11.128" height="18" fill="#0000b6"/>
<rect x="10.528" y="765" width="5.864" height="18" fill="#000080"/>
<rect x="15.792" y="765" width="5.864" height="18" fill="#0000b6"/>
<rect x="21.057" y="765" width="5.864" height="18" fill="#0000d6"/>
<rect x="26.321" y="765" width="5.864" height="18" fill="#00009b"/>
<rect x="31.585" y="765" width="5.864" height="18" fill="#0000ff"/>
<rect x="36.849" y="765" width="5.864" height="18" fill="#0030ff"/>
<rect x="0.000" y="783" width="5.864" height="17" fill="#0000b6"/>
<rect x="5.264" y="783" width="5.864" height="17" fill="#0000d6"/>
<rect x="10.528" y="783" width="5.864" height="17" fill="#00009b"/>
<rect x="15.792" y="783" width="5.864" height="17" fill="#0000d6"/>
<rect x="21.057" y="783" width="11.128" height="17" fill="#0000ff"/>
<rect x="31.585" y="783" width="5.864" height="17" fill="#0018ff"/>
<rect x="36.849" y="783" width="5.864" height="17" fill="#0030ff"/>
<rect x="0.000" y="800" width="5.864" height="18" fill="#0000ff"/>
<rect x="5.264" y="800" width="5.864" height="18" fill="#0000f1"/>
<rect x="10.528" y="800" width="5.864" height="18" fill="#0000b6"/>
<rect x="15.792" y="800" width="5.864" height="18" fill="#0000f1"/>
<rect x="21.057" y="800" width="11.128" height="18" fill="#0000ff"/>
<rect x="31.585" y="800" width="5.864" height="18" fill="#0030ff"/>
<rect x="36.849" y="800" width="5.864" height="18" fill="#0064ff"/>
<rect x="0.000" y="818" width="5.864" height="18" fill="#0030ff"/>
<rect x="5.264" y="818" width="5.864" height="18" fill="#0000d6"/>
<rect x="10.528" y="818" width="5.864" height="18" fill="#0000b6"/>
<rect x="15.792" y="818" width="11.128" height="18" fill="#0000ff"/>
<rect x="26.321" y="818" width="5.864" height="18" fill="#0000d6"/>
<rect x="31.585" y="818" width="5.864" height="18" fill="#0030ff"/>
<rect x="36.849" y="818" width="5.864" height="18" fill="#0098ff"/>
<rect x="0.000" y="836" width="11.128" height="18" fill="#0098ff"/>
<rect x="10.528" y="836" width="5.864" height="18" fill="#004cff"/>
<rect x="15.792" y="836" width="5.864" height="18" fill="#0098ff"/>
<rect x="21.057" y="836" width="11.128" height="18" fill="#00b0ff"/>
<rect x="31.585" y="836" width="5.864" height="18" fill="#00e4f8"/>
<rect x="36.849" y="836" width="5.864" height="18" fill="#29ffce"/>
<rect x="0.000" y="854" width="5.864" height="18" fill="#3cffba"/>
<rect x="5.264" y="854" width="5.864" height="18" fill="#00ccff"/>
<rect x="10.528" y="854" width="5.864" height="18" fill="#0064ff"/>
<rect x="15.792" y="854" width="5.864" height="18" fill="#29ffce"/>
<rect x="21.057" y="854" width="11.128" height="18" fill="#00b0ff"/>
<rect x="31.585" y="854" width="5.864" height="18" fill="#3cffba"/>
<rect x="36.849" y="854" width="5.864" height="18" fill="#66ff90"/>
<rect x="0.000" y="872" width="5.864" height="18" fill="#66ff90"/>
<rect x="5.264" y="872" width="11.128" height="18" fill="#3cffba"/>
<rect x="15.792" y="872" width="5.864" height="18" fill="#7dff7a"/>
<rect x="21.057" y="872" width="11.128" height="18" fill="#66ff90"/>
<rect x="31.585" y="872" width="5.864" height="18" fill="#90ff66"/>
<rect x="36.849" y="872" width="5.864" height="18" fill="#a4ff53"/>
</g>
<g id="clipC">
<rect x="0.000" y="120" width="5.864" height="18" fill="#29ffce"/>
<rect x="5.264" y="120" width="11.128" height="18" fill="#0080ff"/>
<rect x="15.792" y="120" width="11.128" height="18" fill="#00e4f8"/>
<rect x="26.321" y="120" width="5.864" height="18" fill="#0064ff"/>
<rect x="31.585" y="120" width="5.864" height="18" fill="#00e4f8"/>
<rect x="36.849" y="120" width="5.864" height="18" fill="#00b0ff"/>
<rect x="0.000" y="138" width="5.864" height="18" fill="#0030ff"/>
<rect x="5.264" y="138" width="11.128" height="18" fill="#0000d6"/>
<rect x="15.792" y="138" width="5.864" height="18" fill="#0030ff"/>
<rect x="21.057" y="138" width="5.864" height="18" fill="#0018ff"/>
<rect x="26.321" y="138" width="5.864" height="18" fill="#0000b6"/>
<rect x="31.585" y="138" width="11.128" height="18" fill="#0000ff"/>
<rect x="0.000" y="156" width="5.864" height="18" fill="#29ffce"/>
<rect x="5.264" y="156" width="5.864" height="18" fill="#00ccff"/>
<rect x="10.528" y="156" width="5.864" height="18" fill="#00b0ff"/>
<rect x="15.792" y="156" width="11.128" height="18" fill="#00e4f8"/>
<rect x="26.321" y="156" width="5.864" height="18" fill="#0064ff"/>
<rect x="31.585" y="156" width="5.864" height="18" fill="#00b0ff"/>
<rect x="36.849" y="156" width="5.864" height="18" fill="#0098ff"/>
<rect x="0.000" y="174" width="5.864" height="18" fill="#a4ff53"/>
<rect x="5.264" y="174" width="16.392" height="18" fill="#53ffa4"/>
<rect x="21.057" y="174" width="5.864" height="18" fill="#7dff7a"/>
<rect x="26.321" y="174" width="5.864" height="18" fill="#16ffe1"/>
<rect x="31.585" y="174" width="5.864" height="18" fill="#66ff90"/>
<rect x="36.849" y="174" width="5.864" height="18" fill="#53ffa4"/>
<rect x="0.000" y="192" width="5.864" height="18" fill="#0064ff"/>
<rect x="5.264" y="192" width="11.128" height="18" fill="#0000ff"/>
<rect x="15.792" y="192" width="11.128" height="18" fill="#0030ff"/>
<rect x="26.321" y="192" width="5.864" height="18" fill="#0000b6"/>
<rect x="31.585" y="192" width="11.128" height="18" fill="#0018ff"/>
<rect x="0.000" y="210" width="5.864" height="17" fill="#00b0ff"/>
<rect x="5.264" y="210" width="11.128" height="17" fill="#0030ff"/>
<rect x="15.792" y="210" width="5.864" height="17" fill="#0064ff"/>
<rect x="21.057" y="210" width="5.864" height="17" fill="#0080ff"/>
<rect x="26.321" y="210" width="5.864" height="17" fill="#0018ff"/>
<rect x="31.585" y="210" width="11.128" height="17" fill="#0064ff"/>
<rect x="0.000" y="227" width="5.864" height="18" fill="#00ccff"/>
<rect x="5.264" y="227" width="5.864" height="18" fill="#0064ff"/>
<rect x="10.528" y="227" width="16.392" height="18" fill="#0080ff"/>
<rect x="26.321" y="227" width="5.864" height="18" fill="#0030ff"/>
<rect x="31.585" y="227" width="11.128" height="18" fill="#0080ff"/>
<rect x="0.000" y="245" width="5.864" height="18" fill="#0000ff"/>
<rect x="5.264" y="245" width="5.864" height="18" fill="#00009b"/>
<rect x="10.528" y="245" width="11.128" height="18" fill="#0000b6"/>
<rect x="21.057" y="245" width="5.864" height="18" fill="#00009b"/>
<rect x="26.321" y="245" width="16.392" height="18" fill="#000080"/>
<rect x="0.000" y="263" width="5.864" height="18" fill="#0080ff"/>
<rect x="5.264" y="263" width="5.864" height="18" fill="#0018ff"/>
<rect x="10.528" y="263" width="11.128" height="18" fill="#0064ff"/>
<rect x="21.057" y="263" width="5.864" height="18" fill="#004cff"/>
<rect x="26.321" y="263" width="5.864" height="18" fill="#0000ff"/>
<rect x="31.585" y="263" width="5.864" height="18" fill="#0030ff"/>
<rect x="36.849" y="263" width="5.864" height="18" fill="#0000ff"/>
<rect x="0.000" y="281" width="5.864" height="18" fill="#00e4f8"/>
<rect x="5.264" y="281" width="5.864" height="18" fill="#004cff"/>
<rect x="10.528" y="281" width="5.864" height="18" fill="#0018ff"/>
<rect x="15.792" y="281" width="11.128" height="18" fill="#0098ff"/>
<rect x="26.321" y="281" width="5.864" height="18" fill="#004cff"/>
<rect x="31.585" y="281" width="11.128" height="18" fill="#0080ff"/>
<rect x="0.000" y="299" width="5.864" height="18" fill="#0030ff"/>
<rect x="5.264" y="299" width="5.864" height="18" fill="#0018ff"/>
<rect x="10.528" y="299" width="5.864" height="18" fill="#0000d6"/>
<rect x="15.792" y="299" width="11.128" height="18" fill="#0000ff"/>
<rect x="26.321" y="299" width="5.864" height="18" fill="#0000b6"/>
<rect x="31.585" y="299" width="5.864" height="18" fill="#0000d6"/>
<rect x="36.849" y="299" width="5.864" height="18" fill="#0000ff"/>
<rect x="0.000" y="317" width="5.864" height="18" fill="#0098ff"/>
<rect x="5.264" y="317" width="5.864" height="18" fill="#0080ff"/>
<rect x="10.528" y="317" width="5.864" height="18" fill="#0018ff"/>
<rect x="15.792" y="317" width="11.128" height="18" fill="#0080ff"/>
<rect x="26.321" y="317" width="5.864" height="18" fill="#0030ff"/>
<rect x="31.585" y="317" width="5.864" height="18" fill="#004cff"/>
<rect x="36.849" y="317" width="5.864" height="18" fill="#0064ff"/>
<rect x="0.000" y="335" width="5.864" height="18" fill="#0018ff"/>
<rect x="5.264" y="335" width="11.128" height="18" fill="#0000b6"/>
<rect x="15.792" y="335" width="11.128" height="18" fill="#0000f1"/>
<rect x="26.321" y="335" width="11.128" height="18" fill="#00009b"/>
<rect x="36.849" y="335" width="5.864" height="18" fill="#0000b6"/>
<rect x="0.000" y="353" width="11.128" height="18" fill="#00ccff"/>
<rect x="10.528" y="353" width="5.864" height="18" fill="#0064ff"/>
<rect x="15.792" y="353" width="5.864" height="18" fill="#00b0ff"/>
<rect x="21.057" y="353" width="5.864" height="18" fill="#0064ff"/>
<rect x="26.321" y="353" width="5.864" height="18" fill="#0030ff"/>
<rect x="31.585" y="353" width="11.128" height="18" fill="#004cff"/>
<rect x="0.000" y="371" width="5.864" height="18" fill="#53ffa4"/>
<rect x="5.264" y="371" width="5.864" height="18" fill="#00ccff"/>
<rect x="10.528" y="371" width="5.864" height="18" fill="#3cffba"/>
<rect x="15.792" y="371" width="5.864" height="18" fill="#29ffce"/>
<rect x="21.057" y="371" width="5.864" height="18" fill="#00e4f8"/>
<rect x="26.321" y="371" width="5.864" height="18" fill="#0098ff"/>
<rect x="31.585" y="371" width="5.864" height="18" fill="#00e4f8"/>
<rect x="36.849" y="371" width="5.864" height="18" fill="#00b0ff"/>
<rect x="0.000" y="389" width="5.864" height="18" fill="#0018ff"/>
<rect x="5.264" y="389" width="5.864" height="18" fill="#0000b6"/>
<rect x="10.528" y="389" width="5.864" height="18" fill="#0000d6"/>
<rect x="15.792" y="389" width="11.128" height="18" fill="#0000ff"/>
<rect x="26.321" y="389" width="5.864" height="18" fill="#000080"/>
<rect x="31.585" y="389" width="5.864" height="18" fill="#0000f1"/>
<rect x="36.849" y="389" width="5.864" height="18" fill="#0000d6"/>
<rect x="0.000" y="407" width="5.864" height="17" fill="#0064ff"/>
<rect x="5.264" y="407" width="5.864" height="17" fill="#0000f1"/>
<rect x="10.528" y="407" width="5.864" height="17" fill="#0018ff"/>
<rect x="15.792" y="407" width="11.128" height="17" fill="#004cff"/>
<rect x="26.321" y="407" width="5.864" height="17" fill="#0000f1"/>
<rect x="31.585" y="407" width="11.128" height="17" fill="#0030ff"/>
<rect x="0.000" y="424" width="5.864" height="18" fill="#00e4f8"/>
<rect x="5.264" y="424" width="5.864" height="18" fill="#0064ff"/>
<rect x="10.528" y="424" width="5.864" height="18" fill="#004cff"/>
<rect x="15.792" y="424" width="11.128" height="18" fill="#0098ff"/>
<rect x="26.321" y="424" width="5.864" height="18" fill="#0030ff"/>
<rect x="31.585" y="424" width="11.128" height="18" fill="#0080ff"/>
<rect x="0.000" y="442" width="5.864" height="18" fill="#a4ff53"/>
<rect x="5.264" y="442" width="5.864" height="18" fill="#29ffce"/>
<rect x="10.528" y="442" width="5.864" height="18" fill="#66ff90"/>
<rect x="15.792" y="442" width="11.128" height="18" fill="#7dff7a"/>
<rect x="26.321" y="442" width="5.864" height="18" fill="#29ffce"/>
<rect x="31.585" y="442" width="5.864" height="18" fill="#baff3c"/>
<rect x="36.849" y="442" width="5.864" height="18" fill="#3cffba"/>
<rect x="0.000" y="460" width="5.864" height="18" fill="#0098ff"/>
<rect x="5.264" y="460" width="5.864" height="18" fill="#0030ff"/>
<rect x="10.528" y="460" width="5.864" height="18" fill="#0018ff"/>
<rect x="15.792" y="460" width="11.128" height="18" fill="#004cff"/>
<rect x="26.321" y="460" width="16.392" height="18" fill="#0030ff"/>
<rect x="0.000" y="478" width="5.864" height="18" fill="#baff3c"/>
<rect x="5.264" y="478" width="11.128" height="18" fill="#3cffba"/>
<rect x="15.792" y="478" width="11.128" height="18" fill="#90ff66"/>
<rect x="26.321" y="478" width="5.864" height="18" fill="#53ffa4"/>
<rect x="31.585" y="478" width="11.128" height="18" fill="#90ff66"/>
<rect x="0.000" y="496" width="5.864" height="18" fill="#53ffa4"/>
<rect x="5.264" y="496" width="5.864" height="18" fill="#29ffce"/>
<rect x="10.528" y="496" width="5.864" height="18" fill="#00b0ff"/>
<rect x="15.792" y="496" width="5.864" height="18" fill="#16ffe1"/>
<rect x="21.057" y="496" width="5.864" height="18" fill="#29ffce"/>
<rect x="26.321" y="496" width="5.864" height="18" fill="#00b0ff"/>
<rect x="31.585" y="496" width="5.864" height="18" fill="#00ccff"/>
<rect x="36.849" y="496" width="5.864" height="18" fill="#16ffe1"/>
<rect x="0.000" y="514" width="5.864" height="18" fill="#0080ff"/>
<rect x="5.264" y="514" width="5.864" height="18" fill="#0000ff"/>
<rect x="10.528" y="514" width="16.392" height="18" fill="#0030ff"/>
<rect x="26.321" y="514" width="5.864" height="18" fill="#0000f1"/>
<rect x="31.585" y="514" width="5.864" height="18" fill="#0018ff"/>
<rect x="36.849" y="514" width="5.864" height="18" fill="#0000ff"/>
<rect x="0.000" y="532" width="5.864" height="18" fill="#90ff66"/>
<rect x="5.264" y="532" width="5.864" height="18" fill="#16ffe1"/>
<rect x="10.528" y="532" width="5.864" height="18" fill="#3cffba"/>
<rect x="15.792" y="532" width="11.128" height="18" fill="#7dff7a"/>
<rect x="26.321" y="532" width="5.864" height="18" fill="#00e4f8"/>
<rect x="31.585" y="532" width="5.864" height="18" fill="#66ff90"/>
<rect x="36.849" y="532" width="5.864" height="18" fill="#53ffa4"/>
<rect x="0.000" y="550" width="5.864" height="18" fill="#29ffce"/>
<rect x="5.264" y="550" width="5.864" height="18" fill="#0080ff"/>
<rect x="10.528" y="550" width="11.128" height="18" fill="#00b0ff"/>
<rect x="21.057" y="550" width="5.864" height="18" fill="#0098ff"/>
<rect x="26.321" y="550" width="5.864" height="18" fill="#0064ff"/>
<rect x="31.585" y="550" width="5.864" height="18" fill="#0098ff"/>
<rect x="36.849" y="550" width="5.864" height="18" fill="#0080ff"/>
<rect x="0.000" y="568" width="5.864" height="18" fill="#0030ff"/>
<rect x="5.264" y="568" width="5.864" height="18" fill="#0018ff"/>
<rect x="10.528" y="568" width="5.864" height="18" fill="#0000ff"/>
<rect x="15.792" y="568" width="5.864" height="18" fill="#0030ff"/>
<rect x="21.057" y="568" width="5.864" height="18" fill="#0018ff"/>
<rect x="26.321" y="568" width="5.864" height="18" fill="#0000f1"/>
<rect x="31.585" y="568" width="11.128" height="18" fill="#0000ff"/>
<rect x="0.000" y="586" width="5.864" height="17" fill="#0018ff"/>
<rect x="5.264" y="586" width="5.864" height="17" fill="#00009b"/>
<rect x="10.528" y="586" width="5.864" height="17" fill="#0000d6"/>
<rect x="15.792" y="586" width="5.864" height="17" fill="#0018ff"/>
<rect x="21.057" y="586" width="5.864" height="17" fill="#0000ff"/>
<rect x="26.321" y="586" width="5.864" height="17" fill="#000080"/>
<rect x="31.585" y="586" width="5.864" height="17" fill="#0000f1"/>
<rect x="36.849" y="586" width="5.864" height="17" fill="#0000d6"/>
<rect x="0.000" y="603" width="5.864" height="18" fill="#53ffa4"/>
<rect x="5.264" y="603" width="5.864" height="18" fill="#16ffe1"/>
<rect x="10.528" y="603" width="16.392" height="18" fill="#29ffce"/>
<rect x="26.321" y="603" width="5.864" height="18" fill="#00b0ff"/>
<rect x="31.585" y="603" width="5.864" height="18" fill="#29ffce"/>
<rect x="36.849" y="603" width="5.864" height="18" fill="#00e4f8"/>
<rect x="0.000" y="621" width="5.864" height="18" fill="#0000ff"/>
<rect x="5.264" y="621" width="5.864" height="18" fill="#000080"/>
<rect x="10.528" y="621" width="16.392" height="18" fill="#0000b6"/>
<rect x="26.321" y="621" width="5.864" height="18" fill="#000080"/>
<rect x="31.585" y="621" width="11.128" height="18" fill="#00009b"/>
<rect x="0.000" y="639" width="5.864" height="18" fill="#00ccff"/>
<rect x="5.264" y="639" width="5.864" height="18" fill="#0064ff"/>
<rect x="10.528" y="639" width="5.864" height="18" fill="#004cff"/>
<rect x="15.792" y="639" width="11.128" height="18" fill="#0098ff"/>
<rect x="26.321" y="639" width="5.864" height="18" fill="#0030ff"/>
<rect x="31.585" y="639" width="5.864" height="18" fill="#0098ff"/>
<rect x="36.849" y="639" width="5.864" height="18" fill="#0080ff"/>
<rect x="0.000" y="657" width="5.864" height="18" fill="#e4ff13"/>
<rect x="5.264" y="657" width="5.864" height="18" fill="#90ff66"/>
<rect x="10.528" y="657" width="5.864" height="18" fill="#a4ff53"/>
<rect x="15.792" y="657" width="11.128" height="18" fill="#baff3c"/>
<rect x="26.321" y="657" width="5.864" height="18" fill="#66ff90"/>
<rect x="31.585" y="657" width="5.864" height="18" fill="#ceff29"/>
<rect x="36.849" y="657" width="5.864" height="18" fill="#90ff66"/>
<rect x="0.000" y="675" width="5.864" height="18" fill="#90ff66"/>
<rect x="5.264" y="675" width="11.128" height="18" fill="#3cffba"/>
<rect x="15.792" y="675" width="11.128" height="18" fill="#66ff90"/>
<rect x="26.321" y="675" width="5.864" height="18" fill="#16ffe1"/>
<rect x="31.585" y="675" width="5.864" height="18" fill="#66ff90"/>
<rect x="36.849" y="675" width="5.864" height="18" fill="#29ffce"/>
<rect x="0.000" y="693" width="5.864" height="18" fill="#3cffba"/>
<rect x="5.264" y="693" width="5.864" height="18" fill="#16ffe1"/>
<rect x="10.528" y="693" width="5.864" height="18" fill="#00ccff"/>
<rect x="15.792" y="693" width="11.128" height="18" fill="#29ffce"/>
<rect x="26.321" y="693" width="5.864" height="18" fill="#00b0ff"/>
<rect x="31.585" y="693" width="5.864" height="18" fill="#16ffe1"/>
<rect x="36.849" y="693" width="5.864" height="18" fill="#00ccff"/>
<rect x="0.000" y="711" width="5.864" height="18" fill="#0064ff"/>
<rect x="5.264" y="711" width="5.864" height="18" fill="#0000ff"/>
<rect x="10.528" y="711" width="5.864" height="18" fill="#0030ff"/>
<rect x="15.792" y="711" width="11.128" height="18" fill="#004cff"/>
<rect x="26.321" y="711" width="5.864" height="18" fill="#0000f1"/>
<rect x="31.585" y="711" width="5.864" height="18" fill="#0030ff"/>
<rect x="36.849" y="711" width="5.864" height="18" fill="#0018ff"/>
<rect x="0.000" y="729" width="5.864" height="18" fill="#0080ff"/>
<rect x="5.264" y="729" width="5.864" height="18" fill="#0030ff"/>
<rect x="10.528" y="729" width="11.128" height="18" fill="#0098ff"/>
<rect x="21.057" y="729" width="5.864" height="18" fill="#0064ff"/>
<rect x="26.321" y="729" width="5.864" height="18" fill="#0018ff"/>
<rect x="31.585" y="729" width="5.864" height="18" fill="#004cff"/>
<rect x="36.849" y="729" width="5.864" height="18" fill="#0030ff"/>
<rect x="0.000" y="747" width="5.864" height="18" fill="#29ffce"/>
<rect x="5.264" y="747" width="5.864" height="18" fill="#00b0ff"/>
<rect x="10.528" y="747" width="5.864" height="18" fill="#0064ff"/>
<rect x="15.792" y="747" width="11.128" height="18" fill="#00b0ff"/>
<rect x="26.321" y="747" width="5.864" height="18" fill="#0080ff"/>
<rect x="31.585" y="747" width="11.128" height="18" fill="#0098ff"/>
<rect x="0.000" y="765" width="5.864" height="18" fill="#0000ff"/>
<rect x="5.264" y="765" width="5.864" height="18" fill="#000080"/>
<rect x="10.528" y="765" width="5.864" height="18" fill="#00009b"/>
<rect x="15.792" y="765" width="11.128" height="18" fill="#0000d6"/>
<rect x="26.321" y="765" width="5.864" height="18" fill="#000080"/>
<rect x="31.585" y="765" width="5.864" height="18" fill="#0000b6"/>
<rect x="36.849" y="765" width="5.864" height="18" fill="#00009b"/>
<rect x="0.000" y="783" width="5.864" height="17" fill="#0000ff"/>
<rect x="5.264" y="783" width="11.128" height="17" fill="#00009b"/>
<rect x="15.792" y="783" width="5.864" height="17" fill="#0000ff"/>
<rect x="21.057" y="783" width="5.864" height="17" fill="#0000d6"/>
<rect x="26.321" y="783" width="5.864" height="17" fill="#000080"/>
<rect x="31.585" y="783" width="5.864" height="17" fill="#0000d6"/>
<rect x="36.849" y="783" width="5.864" height="17" fill="#00009b"/>
<rect x="0.000" y="800" width="5.864" height="18" fill="#0018ff"/>
<rect x="5.264" y="800" width="5.864" height="18" fill="#0000ff"/>
<rect x="10.528" y="800" width="5.864" height="18" fill="#0000f1"/>
<rect x="15.792" y="800" width="5.864" height="18" fill="#0018ff"/>
<rect x="21.057" y="800" width="5.864" height="18" fill="#0000ff"/>
<rect x="26.321" y="800" width="5.864" height="18" fill="#0000b6"/>
<rect x="31.585" y="800" width="11.128" height="18" fill="#0000f1"/>
<rect x="0.000" y="818" width="5.864" height="18" fill="#0030ff"/>
<rect x="5.264" y="818" width="5.864" height="18" fill="#0018ff"/>
<rect x="10.528" y="818" width="5.864" height="18" fill="#0000ff"/>
<rect x="15.792" y="818" width="11.128" height="18" fill="#0018ff"/>
<rect x="26.321" y="818" width="11.128" height="18" fill="#0000f1"/>
<rect x="36.849" y="818" width="5.864" height="18" fill="#0000ff"/>
<rect x="0.000" y="836" width="5.864" height="18" fill="#16ffe1"/>
<rect x="5.264" y="836" width="5.864" height="18" fill="#0064ff"/>
<rect x="10.528" y="836" width="5.864" height="18" fill="#0080ff"/>
<rect x="15.792" y="836" width="5.864" height="18" fill="#00b0ff"/>
<rect x="21.057" y="836" width="5.864" height="18" fill="#00ccff"/>
<rect x="26.321" y="836" width="5.864" height="18" fill="#0030ff"/>
<rect x="31.585" y="836" width="5.864" height="18" fill="#0098ff"/>
<rect x="36.849" y="836" width="5.864" height="18" fill="#0080ff"/>
<rect x="0.000" y="854" width="5.864" height="18" fill="#66ff90"/>
<rect x="5.264" y="854" width="11.128" height="18" fill="#00ccff"/>
<rect x="15.792" y="854" width="11.128" height="18" fill="#29ffce"/>
<rect x="26.321" y="854" width="5.864" height="18" fill="#0098ff"/>
<rect x="31.585" y="854" width="5.864" height="18" fill="#29ffce"/>
<rect x="36.849" y="854" width="5.864" height="18" fill="#16ffe1"/>
<rect x="0.000" y="872" width="5.864" height="18" fill="#90ff66"/>
<rect x="5.264" y="872" width="5.864" height="18" fill="#7dff7a"/>
<rect x="10.528" y="872" width="5.864" height="18" fill="#3cffba"/>
<rect x="15.792" y="872" width="16.392" height="18" fill="#7dff7a"/>
<rect x="31.585" y="872" width="11.128" height="18" fill="#66ff90"/>
</g>
<g id="clipD">
<rect x="0.000" y="120" width="5.864" height="18" fill="#0098ff"/>
<rect x="5.264" y="120" width="5.864" height="18" fill="#00e4f8"/>
<rect x="10.528" y="120" width="5.864" height="18" fill="#00ccff"/>
<rect x="15.792" y="120" width="5.864" height="18" fill="#53ffa4"/>
<rect x="21.057" y="120" width="5.864" height="18" fill="#00ccff"/>
<rect x="26.321" y="120" width="5.864" height="18" fill="#29ffce"/>
<rect x="31.585" y="120" width="5.864" height="18" fill="#0098ff"/>
<rect x="36.849" y="120" width="5.864" height="18" fill="#00b0ff"/>
<rect x="0.000" y="138" width="5.864" height="18" fill="#0000b6"/>
<rect x="5.264" y="138" width="11.128" height="18" fill="#0000ff"/>
<rect x="15.792" y="138" width="5.864" height="18" fill="#00b0ff"/>
<rect x="21.057" y="138" width="5.864" height="18" fill="#0064ff"/>
<rect x="26.321" y="138" width="5.864" height="18" fill="#004cff"/>
<rect x="31.585" y="138" width="11.128" height="18" fill="#0000f1"/>
<rect x="0.000" y="156" width="5.864" height="18" fill="#0098ff"/>
<rect x="5.264" y="156" width="5.864" height="18" fill="#00b0ff"/>
<rect x="10.528" y="156" width="5.864" height="18" fill="#53ffa4"/>
<rect x="15.792" y="156" width="5.864" height="18" fill="#7dff7a"/>
<rect x="21.057" y="156" width="11.128" height="18" fill="#29ffce"/>
<rect x="31.585" y="156" width="5.864" height="18" fill="#0098ff"/>
<rect x="36.849" y="156" width="5.864" height="18" fill="#0064ff"/>
<rect x="0.000" y="174" width="5.864" height="18" fill="#3cffba"/>
<rect x="5.264" y="174" width="5.864" height="18" fill="#29ffce"/>
<rect x="10.528" y="174" width="5.864" height="18" fill="#66ff90"/>
<rect x="15.792" y="174" width="5.864" height="18" fill="#a4ff53"/>
<rect x="21.057" y="174" width="11.128" height="18" fill="#7dff7a"/>
<rect x="31.585" y="174" width="5.864" height="18" fill="#53ffa4"/>
<rect x="36.849" y="174" width="5.864" height="18" fill="#3cffba"/>
<rect x="0.000" y="192" width="5.864" height="18" fill="#0018ff"/>
<rect x="5.264" y="192" width="11.128" height="18" fill="#0030ff"/>
<rect x="15.792" y="192" width="5.864" height="18" fill="#00e4f8"/>
<rect x="21.057" y="192" width="11.128" height="18" fill="#0064ff"/>
<rect x="31.585" y="192" width="5.864" height="18" fill="#0018ff"/>
<rect x="36.849" y="192" width="5.864" height="18" fill="#0000ff"/>
<rect x="0.000" y="210" width="5.864" height="17" fill="#004cff"/>
<rect x="5.264" y="210" width="5.864" height="17" fill="#0030ff"/>
<rect x="10.528" y="210" width="5.864" height="17" fill="#0080ff"/>
<rect x="15.792" y="210" width="5.864" height="17" fill="#29ffce"/>
<rect x="21.057" y="210" width="5.864" height="17" fill="#0064ff"/>
<rect x="26.321" y="210" width="5.864" height="17" fill="#00ccff"/>
<rect x="31.585" y="210" width="11.128" height="17" fill="#0064ff"/>
<rect x="0.000" y="227" width="5.864" height="18" fill="#004cff"/>
<rect x="5.264" y="227" width="5.864" height="18" fill="#0064ff"/>
<rect x="10.528" y="227" width="5.864" height="18" fill="#00b0ff"/>
<rect x="15.792" y="227" width="5.864" height="18" fill="#29ffce"/>
<rect x="21.057" y="227" width="5.864" height="18" fill="#00ccff"/>
<rect x="26.321" y="227" width="5.864" height="18" fill="#00e4f8"/>
<rect x="31.585" y="227" width="5.864" height="18" fill="#0098ff"/>
<rect x="36.849" y="227" width="5.864" height="18" fill="#0064ff"/>
<rect x="0.000" y="245" width="11.128" height="18" fill="#000080"/>
<rect x="10.528" y="245" width="5.864" height="18" fill="#00009b"/>
<rect x="15.792" y="245" width="11.128" height="18" fill="#0030ff"/>
<rect x="26.321" y="245" width="5.864" height="18" fill="#0000f1"/>
<rect x="31.585" y="245" width="11.128" height="18" fill="#000080"/>
<rect x="0.000" y="263" width="11.128" height="18" fill="#0030ff"/>
<rect x="10.528" y="263" width="5.864" height="18" fill="#0064ff"/>
<rect x="15.792" y="263" width="5.864" height="18" fill="#00e4f8"/>
<rect x="21.057" y="263" width="5.864" height="18" fill="#0098ff"/>
<rect x="26.321" y="263" width="5.864" height="18" fill="#0080ff"/>
<rect x="31.585" y="263" width="5.864" height="18" fill="#0018ff"/>
<rect x="36.849" y="263" width="5.864" height="18" fill="#0030ff"/>
<rect x="0.000" y="281" width="5.864" height="18" fill="#0030ff"/>
<rect x="5.264" y="281" width="5.864" height="18" fill="#0098ff"/>
<rect x="10.528" y="281" width="5.864" height="18" fill="#00b0ff"/>
<rect x="15.792" y="281" width="5.864" height="18" fill="#3cffba"/>
<rect x="21.057" y="281" width="5.864" height="18" fill="#00b0ff"/>
<rect x="26.321" y="281" width="5.864" height="18" fill="#29ffce"/>
<rect x="31.585" y="281" width="5.864" height="18" fill="#0080ff"/>
<rect x="36.849" y="281" width="5.864" height="18" fill="#0064ff"/>
<rect x="0.000" y="299" width="5.864" height="18" fill="#0018ff"/>
<rect x="5.264" y="299" width="11.128" height="18" fill="#0000f1"/>
<rect x="15.792" y="299" width="5.864" height="18" fill="#00b0ff"/>
<rect x="21.057" y="299" width="11.128" height="18" fill="#004cff"/>
<rect x="31.585" y="299" width="5.864" height="18" fill="#0000f1"/>
<rect x="36.849" y="299" width="5.864" height="18" fill="#0000d6"/>
<rect x="0.000" y="317" width="5.864" height="18" fill="#0064ff"/>
<rect x="5.264" y="317" width="5.864" height="18" fill="#0018ff"/>
<rect x="10.528" y="317" width="5.864" height="18" fill="#0064ff"/>
<rect x="15.792" y="317" width="5.864" height="18" fill="#29ffce"/>
<rect x="21.057" y="317" width="5.864" height="18" fill="#16ffe1"/>
<rect x="26.321" y="317" width="5.864" height="18" fill="#00b0ff"/>
<rect x="31.585" y="317" width="5.864" height="18" fill="#0018ff"/>
<rect x="36.849" y="317" width="5.864" height="18" fill="#004cff"/>
<rect x="0.000" y="335" width="11.128" height="18" fill="#0000b6"/>
<rect x="10.528" y="335" width="5.864" height="18" fill="#0000f1"/>
<rect x="15.792" y="335" width="5.864" height="18" fill="#0080ff"/>
<rect x="21.057" y="335" width="5.864" height="18" fill="#004cff"/>
<rect x="26.321" y="335" width="5.864" height="18" fill="#0018ff"/>
<rect x="31.585" y="335" width="5.864" height="18" fill="#0000d6"/>
<rect x="36.849" y="335" width="5.864" height="18" fill="#0000b6"/>
<rect x="0.000" y="353" width="11.128" height="18" fill="#004cff"/>
<rect x="10.528" y="353" width="5.864" height="18" fill="#0064ff"/>
<rect x="15.792" y="353" width="11.128" height="18" fill="#3cffba"/>
<rect x="26.321" y="353" width="5.864" height="18" fill="#00e4f8"/>
<rect x="31.585" y="353" width="5.864" height="18" fill="#0018ff"/>
<rect x="36.849" y="353" width="5.864" height="18" fill="#004cff"/>
<rect x="0.000" y="371" width="11.128" height="18" fill="#00ccff"/>
<rect x="10.528" y="371" width="5.864" height="18" fill="#00e4f8"/>
<rect x="15.792" y="371" width="5.864" height="18" fill="#53ffa4"/>
<rect x="21.057" y="371" width="5.864" height="18" fill="#66ff90"/>
<rect x="26.321" y="371" width="5.864" height="18" fill="#16ffe1"/>
<rect x="31.585" y="371" width="5.864" height="18" fill="#00b0ff"/>
<rect x="36.849" y="371" width="5.864" height="18" fill="#00e4f8"/>
<rect x="0.000" y="389" width="11.128" height="18" fill="#0000f1"/>
<rect x="10.528" y="389" width="5.864" height="18" fill="#0000d6"/>
<rect x="15.792" y="389" width="5.864" height="18" fill="#00b0ff"/>
<rect x="21.057" y="389" width="5.864" height="18" fill="#004cff"/>
<rect x="26.321" y="389" width="5.864" height="18" fill="#0018ff"/>
<rect x="31.585" y="389" width="11.128" height="18" fill="#0000d6"/>
<rect x="0.000" y="407" width="5.864" height="17" fill="#0000ff"/>
<rect x="5.264" y="407" width="11.128" height="17" fill="#0030ff"/>
<rect x="15.792" y="407" width="5.864" height="17" fill="#00ccff"/>
<rect x="21.057" y="407" width="11.128" height="17" fill="#0064ff"/>
<rect x="31.585" y="407" width="5.864" height="17" fill="#0018ff"/>
<rect x="36.849" y="407" width="5.864" height="17" fill="#0000ff"/>
<rect x="0.000" y="424" width="5.864" height="18" fill="#0064ff"/>
<rect x="5.264" y="424" width="5.864" height="18" fill="#0080ff"/>
<rect x="10.528" y="424" width="5.864" height="18" fill="#00ccff"/>
<rect x="15.792" y="424" width="5.864" height="18" fill="#66ff90"/>
<rect x="21.057" y="424" width="5.864" height="18" fill="#00ccff"/>
<rect x="26.321" y="424" width="5.864" height="18" fill="#16ffe1"/>
<rect x="31.585" y="424" width="11.128" height="18" fill="#0064ff"/>
<rect x="0.000" y="442" width="5.864" height="18" fill="#3cffba"/>
<rect x="5.264" y="442" width="11.128" height="18" fill="#90ff66"/>
<rect x="15.792" y="442" width="5.864" height="18" fill="#ceff29"/>
<rect x="21.057" y="442" width="5.864" height="18" fill="#a4ff53"/>
<rect x="26.321" y="442" width="5.864" height="18" fill="#90ff66"/>
<rect x="31.585" y="442" width="5.864" height="18" fill="#3cffba"/>
<rect x="36.849" y="442" width="5.864" height="18" fill="#66ff90"/>
<rect x="0.000" y="460" width="5.864" height="18" fill="#0018ff"/>
<rect x="5.264" y="460" width="5.864" height="18" fill="#0000ff"/>
<rect x="10.528" y="460" width="5.864" height="18" fill="#0064ff"/>
<rect x="15.792" y="460" width="5.864" height="18" fill="#16ffe1"/>
<rect x="21.057" y="460" width="11.128" height="18" fill="#0098ff"/>
<rect x="31.585" y="460" width="5.864" height="18" fill="#0000ff"/>
<rect x="36.849" y="460" width="5.864" height="18" fill="#0018ff"/>
<rect x="0.000" y="478" width="5.864" height="18" fill="#7dff7a"/>
<rect x="5.264" y="478" width="5.864" height="18" fill="#a4ff53"/>
<rect x="10.528" y="478" width="5.864" height="18" fill="#3cffba"/>
<rect x="15.792" y="478" width="5.864" height="18" fill="#e4ff13"/>
<rect x="21.057" y="478" width="5.864" height="18" fill="#66ff90"/>
<rect x="26.321" y="478" width="5.864" height="18" fill="#a4ff53"/>
<rect x="31.585" y="478" width="11.128" height="18" fill="#7dff7a"/>
<rect x="0.000" y="496" width="5.864" height="18" fill="#00ccff"/>
<rect x="5.264" y="496" width="5.864" height="18" fill="#0098ff"/>
<rect x="10.528" y="496" width="5.864" height="18" fill="#29ffce"/>
<rect x="15.792" y="496" width="16.392" height="18" fill="#66ff90"/>
<rect x="31.585" y="496" width="5.864" height="18" fill="#00ccff"/>
<rect x="36.849" y="496" width="5.864" height="18" fill="#00e4f8"/>
<rect x="0.000" y="514" width="5.864" height="18" fill="#0030ff"/>
<rect x="5.264" y="514" width="5.864" height="18" fill="#0000ff"/>
<rect x="10.528" y="514" width="5.864" height="18" fill="#0030ff"/>
<rect x="15.792" y="514" width="5.864" height="18" fill="#00b0ff"/>
<rect x="21.057" y="514" width="5.864" height="18" fill="#0080ff"/>
<rect x="26.321" y="514" width="5.864" height="18" fill="#0064ff"/>
<rect x="31.585" y="514" width="11.128" height="18" fill="#0018ff"/>
<rect x="0.000" y="532" width="5.864" height="18" fill="#29ffce"/>
<rect x="5.264" y="532" width="5.864" height="18" fill="#66ff90"/>
<rect x="10.528" y="532" width="5.864" height="18" fill="#7dff7a"/>
<rect x="15.792" y="532" width="11.128" height="18" fill="#a4ff53"/>
<rect x="26.321" y="532" width="5.864" height="18" fill="#7dff7a"/>
<rect x="31.585" y="532" width="5.864" height="18" fill="#3cffba"/>
<rect x="36.849" y="532" width="5.864" height="18" fill="#29ffce"/>
<rect x="0.000" y="550" width="11.128" height="18" fill="#0064ff"/>
<rect x="10.528" y="550" width="5.864" height="18" fill="#00ccff"/>
<rect x="15.792" y="550" width="5.864" height="18" fill="#53ffa4"/>
<rect x="21.057" y="550" width="5.864" height="18" fill="#00e4f8"/>
<rect x="26.321" y="550" width="5.864" height="18" fill="#29ffce"/>
<rect x="31.585" y="550" width="5.864" height="18" fill="#0080ff"/>
<rect x="36.849" y="550" width="5.864" height="18" fill="#0064ff"/>
<rect x="0.000" y="568" width="5.864" height="18" fill="#0000f1"/>
<rect x="5.264" y="568" width="5.864" height="18" fill="#0000ff"/>
<rect x="10.528" y="568" width="5.864" height="18" fill="#0018ff"/>
<rect x="15.792" y="568" width="5.864" height="18" fill="#16ffe1"/>
<rect x="21.057" y="568" width="11.128" height="18" fill="#0064ff"/>
<rect x="31.585" y="568" width="11.128" height="18" fill="#0000ff"/>
<rect x="0.000" y="586" width="5.864" height="17" fill="#0000b6"/>
<rect x="5.264" y="586" width="11.128" height="17" fill="#0000f1"/>
<rect x="15.792" y="586" width="5.864" height="17" fill="#0098ff"/>
<rect x="21.057" y="586" width="5.864" height="17" fill="#0064ff"/>
<rect x="26.321" y="586" width="5.864" height="17" fill="#0018ff"/>
<rect x="31.585" y="586" width="5.864" height="17" fill="#0000b6"/>
<rect x="36.849" y="586" width="5.864" height="17" fill="#0000f1"/>
<rect x="0.000" y="603" width="5.864" height="18" fill="#00e4f8"/>
<rect x="5.264" y="603" width="11.128" height="18" fill="#29ffce"/>
<rect x="15.792" y="603" width="5.864" height="18" fill="#7dff7a"/>
<rect x="21.057" y="603" width="5.864" height="18" fill="#53ffa4"/>
<rect x="26.321" y="603" width="5.864" height="18" fill="#3cffba"/>
<rect x="31.585" y="603" width="5.864" height="18" fill="#00ccff"/>
<rect x="36.849" y="603" width="5.864" height="18" fill="#00e4f8"/>
<rect x="0.000" y="621" width="5.864" height="18" fill="#000080"/>
<rect x="5.264" y="621" width="5.864" height="18" fill="#00009b"/>
<rect x="10.528" y="621" width="5.864" height="18" fill="#000080"/>
<rect x="15.792" y="621" width="5.864" height="18" fill="#0030ff"/>
<rect x="21.057" y="621" width="5.864" height="18" fill="#0000ff"/>
<rect x="26.321" y="621" width="5.864" height="18" fill="#0000d6"/>
<rect x="31.585" y="621" width="5.864" height="18" fill="#000080"/>
<rect x="36.849" y="621" width="5.864" height="18" fill="#00009b"/>
<rect x="0.000" y="639" width="5.864" height="18" fill="#004cff"/>
<rect x="5.264" y="639" width="5.864" height="18" fill="#0080ff"/>
<rect x="10.528" y="639" width="5.864" height="18" fill="#00b0ff"/>
<rect x="15.792" y="639" width="5.864" height="18" fill="#3cffba"/>
<rect x="21.057" y="639" width="5.864" height="18" fill="#29ffce"/>
<rect x="26.321" y="639" width="5.864" height="18" fill="#00e4f8"/>
<rect x="31.585" y="639" width="11.128" height="18" fill="#0080ff"/>
<rect x="0.000" y="657" width="5.864" height="18" fill="#7dff7a"/>
<rect x="5.264" y="657" width="11.128" height="18" fill="#baff3c"/>
<rect x="15.792" y="657" width="5.864" height="18" fill="#ffe600"/>
<rect x="21.057" y="657" width="11.128" height="18" fill="#ceff29"/>
<rect x="31.585" y="657" width="5.864" height="18" fill="#7dff7a"/>
<rect x="36.849" y="657" width="5.864" height="18" fill="#90ff66"/>
<rect x="0.000" y="675" width="5.864" height="18" fill="#29ffce"/>
<rect x="5.264" y="675" width="5.864" height="18" fill="#3cffba"/>
<rect x="10.528" y="675" width="5.864" height="18" fill="#7dff7a"/>
<rect x="15.792" y="675" width="5.864" height="18" fill="#ceff29"/>
<rect x="21.057" y="675" width="5.864" height="18" fill="#90ff66"/>
<rect x="26.321" y="675" width="5.864" height="18" fill="#a4ff53"/>
<rect x="31.585" y="675" width="5.864" height="18" fill="#29ffce"/>
<rect x="36.849" y="675" width="5.864" height="18" fill="#53ffa4"/>
<rect x="0.000" y="693" width="16.392" height="18" fill="#16ffe1"/>
<rect x="15.792" y="693" width="5.864" height="18" fill="#90ff66"/>
<rect x="21.057" y="693" width="5.864" height="18" fill="#53ffa4"/>
<rect x="26.321" y="693" width="5.864" height="18" fill="#3cffba"/>
<rect x="31.585" y="693" width="5.864" height="18" fill="#00e4f8"/>
<rect x="36.849" y="693" width="5.864" height="18" fill="#00ccff"/>
<rect x="0.000" y="711" width="5.864" height="18" fill="#0000f1"/>
<rect x="5.264" y="711" width="5.864" height="18" fill="#0018ff"/>
<rect x="10.528" y="711" width="5.864" height="18" fill="#004cff"/>
<rect x="15.792" y="711" width="5.864" height="18" fill="#00e4f8"/>
<rect x="21.057" y="711" width="5.864" height="18" fill="#0080ff"/>
<rect x="26.321" y="711" width="5.864" height="18" fill="#0064ff"/>
<rect x="31.585" y="711" width="5.864" height="18" fill="#0018ff"/>
<rect x="36.849" y="711" width="5.864" height="18" fill="#0000ff"/>
<rect x="0.000" y="729" width="11.128" height="18" fill="#0030ff"/>
<rect x="10.528" y="729" width="5.864" height="18" fill="#0080ff"/>
<rect x="15.792" y="729" width="5.864" height="18" fill="#16ffe1"/>
<rect x="21.057" y="729" width="11.128" height="18" fill="#00b0ff"/>
<rect x="31.585" y="729" width="11.128" height="18" fill="#004cff"/>
<rect x="0.000" y="747" width="5.864" height="18" fill="#0080ff"/>
<rect x="5.264" y="747" width="5.864" height="18" fill="#0098ff"/>
<rect x="10.528" y="747" width="5.864" height="18" fill="#0080ff"/>
<rect x="15.792" y="747" width="5.864" height="18" fill="#53ffa4"/>
<rect x="21.057" y="747" width="5.864" height="18" fill="#00e4f8"/>
<rect x="26.321" y="747" width="5.864" height="18" fill="#29ffce"/>
<rect x="31.585" y="747" width="11.128" height="18" fill="#0064ff"/>
<rect x="0.000" y="765" width="5.864" height="18" fill="#0000b6"/>
<rect x="5.264" y="765" width="5.864" height="18" fill="#0000d6"/>
<rect x="10.528" y="765" width="5.864" height="18" fill="#00009b"/>
<rect x="15.792" y="765" width="5.864" height="18" fill="#0064ff"/>
<rect x="21.057" y="765" width="11.128" height="18" fill="#0000ff"/>
<rect x="31.585" y="765" width="5.864" height="18" fill="#0000b6"/>
<rect x="36.849" y="765" width="5.864" height="18" fill="#0000d6"/>
<rect x="0.000" y="783" width="5.864" height="17" fill="#0000b6"/>
<rect x="5.264" y="783" width="11.128" height="17" fill="#0000d6"/>
<rect x="15.792" y="783" width="5.864" height="17" fill="#0080ff"/>
<rect x="21.057" y="783" width="5.864" height="17" fill="#0030ff"/>
<rect x="26.321" y="783" width="5.864" height="17" fill="#0000ff"/>
<rect x="31.585" y="783" width="5.864" height="17" fill="#000080"/>
<rect x="36.849" y="783" width="5.864" height="17" fill="#0000d6"/>
<rect x="0.000" y="800" width="5.864" height="18" fill="#0000ff"/>
<rect x="5.264" y="800" width="5.864" height="18" fill="#0018ff"/>
<rect x="10.528" y="800" width="5.864" height="18" fill="#0000ff"/>
<rect x="15.792" y="800" width="5.864" height="18" fill="#0098ff"/>
<rect x="21.057" y="800" width="11.128" height="18" fill="#0030ff"/>
<rect x="31.585" y="800" width="11.128" height="18" fill="#0000f1"/>
<rect x="0.000" y="818" width="5.864" height="18" fill="#0000ff"/>
<rect x="5.264" y="818" width="5.864" height="18" fill="#0018ff"/>
<rect x="10.528" y="818" width="5.864" height="18" fill="#0030ff"/>
<rect x="15.792" y="818" width="5.864" height="18" fill="#00ccff"/>
<rect x="21.057" y="818" width="5.864" height="18" fill="#0064ff"/>
<rect x="26.321" y="818" width="5.864" height="18" fill="#004cff"/>
<rect x="31.585" y="818" width="5.864" height="18" fill="#0000f1"/>
<rect x="36.849" y="818" width="5.864" height="18" fill="#0000ff"/>
<rect x="0.000" y="836" width="5.864" height="18" fill="#0080ff"/>
<rect x="5.264" y="836" width="11.128" height="18" fill="#00b0ff"/>
<rect x="15.792" y="836" width="5.864" height="18" fill="#53ffa4"/>
<rect x="21.057" y="836" width="11.128" height="18" fill="#00e4f8"/>
<rect x="31.585" y="836" width="11.128" height="18" fill="#0080ff"/>
<rect x="0.000" y="854" width="5.864" height="18" fill="#00ccff"/>
<rect x="5.264" y="854" width="5.864" height="18" fill="#29ffce"/>
<rect x="10.528" y="854" width="5.864" height="18" fill="#00e4f8"/>
<rect x="15.792" y="854" width="5.864" height="18" fill="#90ff66"/>
<rect x="21.057" y="854" width="5.864" height="18" fill="#16ffe1"/>
<rect x="26.321" y="854" width="5.864" height="18" fill="#53ffa4"/>
<rect x="31.585" y="854" width="11.128" height="18" fill="#00ccff"/>
<rect x="0.000" y="872" width="5.864" height="18" fill="#66ff90"/>
<rect x="5.264" y="872" width="5.864" height="18" fill="#53ffa4"/>
<rect x="10.528" y="872" width="5.864" height="18" fill="#90ff66"/>
<rect x="15.792" y="872" width="11.128" height="18" fill="#e4ff13"/>
<rect x="26.321" y="872" width="5.864" height="18" fill="#ceff29"/>
<rect x="31.585" y="872" width="5.864" height="18" fill="#3cffba"/>
<rect x="36.849" y="872" width="5.864" height="18" fill="#90ff66"/>
</g>
<g id="clipE">
<rect x="0.000" y="120" width="11.128" height="18" fill="#29ffce"/>
<rect x="10.528" y="120" width="5.864" height="18" fill="#0098ff"/>
<rect x="0.000" y="138" width="5.864" height="18" fill="#0030ff"/>
<rect x="5.264" y="138" width="5.864" height="18" fill="#0064ff"/>
<rect x="10.528" y="138" width="5.864" height="18" fill="#0000f1"/>
<rect x="0.000" y="156" width="5.864" height="18" fill="#16ffe1"/>
<rect x="5.264" y="156" width="5.864" height="18" fill="#00e4f8"/>
<rect x="10.528" y="156" width="5.864" height="18" fill="#0080ff"/>
<rect x="0.000" y="174" width="11.128" height="18" fill="#90ff66"/>
<rect x="10.528" y="174" width="5.864" height="18" fill="#3cffba"/>
<rect x="0.000" y="192" width="5.864" height="18" fill="#0064ff"/>
<rect x="5.264" y="192" width="5.864" height="18" fill="#0080ff"/>
<rect x="10.528" y="192" width="5.864" height="18" fill="#0000ff"/>
<rect x="0.000" y="210" width="11.128" height="17" fill="#00ccff"/>
<rect x="10.528" y="210" width="5.864" height="17" fill="#004cff"/>
<rect x="0.000" y="227" width="11.128" height="18" fill="#00e4f8"/>
<rect x="10.528" y="227" width="5.864" height="18" fill="#0064ff"/>
<rect x="0.000" y="245" width="5.864" height="18" fill="#0000f1"/>
<rect x="5.264" y="245" width="5.864" height="18" fill="#0000ff"/>
<rect x="10.528" y="245" width="5.864" height="18" fill="#00009b"/>
<rect x="0.000" y="263" width="11.128" height="18" fill="#0064ff"/>
<rect x="10.528" y="263" width="5.864" height="18" fill="#0000ff"/>
<rect x="0.000" y="281" width="5.864" height="18" fill="#0098ff"/>
<rect x="5.264" y="281" width="5.864" height="18" fill="#29ffce"/>
<rect x="10.528" y="281" width="5.864" height="18" fill="#004cff"/>
<rect x="0.000" y="299" width="5.864" height="18" fill="#0030ff"/>
<rect x="5.264" y="299" width="5.864" height="18" fill="#0064ff"/>
<rect x="10.528" y="299" width="5.864" height="18" fill="#0000b6"/>
<rect x="0.000" y="317" width="5.864" height="18" fill="#0080ff"/>
<rect x="5.264" y="317" width="5.864" height="18" fill="#16ffe1"/>
<rect x="10.528" y="317" width="5.864" height="18" fill="#0018ff"/>
<rect x="0.000" y="335" width="11.128" height="18" fill="#0018ff"/>
<rect x="10.528" y="335" width="5.864" height="18" fill="#0000b6"/>
<rect x="0.000" y="353" width="5.864" height="18" fill="#0080ff"/>
<rect x="5.264" y="353" width="5.864" height="18" fill="#16ffe1"/>
<rect x="10.528" y="353" width="5.864" height="18" fill="#0018ff"/>
<rect x="0.000" y="371" width="5.864" height="18" fill="#3cffba"/>
<rect x="5.264" y="371" width="5.864" height="18" fill="#16ffe1"/>
<rect x="10.528" y="371" width="5.864" height="18" fill="#00b0ff"/>
<rect x="0.000" y="389" width="5.864" height="18" fill="#0018ff"/>
<rect x="5.264" y="389" width="5.864" height="18" fill="#0064ff"/>
<rect x="10.528" y="389" width="5.864" height="18" fill="#0000d6"/>
<rect x="0.000" y="407" width="11.128" height="17" fill="#0064ff"/>
<rect x="10.528" y="407" width="5.864" height="17" fill="#0000ff"/>
<rect x="0.000" y="424" width="11.128" height="18" fill="#00e4f8"/>
<rect x="10.528" y="424" width="5.864" height="18" fill="#0064ff"/>
<rect x="0.000" y="442" width="5.864" height="18" fill="#baff3c"/>
<rect x="5.264" y="442" width="11.128" height="18" fill="#7dff7a"/>
<rect x="0.000" y="460" width="5.864" height="18" fill="#0080ff"/>
<rect x="5.264" y="460" width="5.864" height="18" fill="#0098ff"/>
<rect x="10.528" y="460" width="5.864" height="18" fill="#0018ff"/>
<rect x="0.000" y="478" width="5.864" height="18" fill="#90ff66"/>
<rect x="5.264" y="478" width="5.864" height="18" fill="#baff3c"/>
<rect x="10.528" y="478" width="5.864" height="18" fill="#7dff7a"/>
<rect x="0.000" y="496" width="5.864" height="18" fill="#53ffa4"/>
<rect x="5.264" y="496" width="5.864" height="18" fill="#29ffce"/>
<rect x="10.528" y="496" width="5.864" height="18" fill="#00b0ff"/>
<rect x="0.000" y="514" width="11.128" height="18" fill="#0064ff"/>
<rect x="10.528" y="514" width="5.864" height="18" fill="#0000ff"/>
<rect x="0.000" y="532" width="11.128" height="18" fill="#90ff66"/>
<rect x="10.528" y="532" width="5.864" height="18" fill="#3cffba"/>
<rect x="0.000" y="550" width="5.864" height="18" fill="#16ffe1"/>
<rect x="5.264" y="550" width="5.864" height="18" fill="#00e4f8"/>
<rect x="10.528" y="550" width="5.864" height="18" fill="#0064ff"/>
<rect x="0.000" y="568" width="5.864" height="18" fill="#004cff"/>
<rect x="5.264" y="568" width="5.864" height="18" fill="#0098ff"/>
<rect x="10.528" y="568" width="5.864" height="18" fill="#0000ff"/>
<rect x="0.000" y="586" width="5.864" height="17" fill="#0018ff"/>
<rect x="5.264" y="586" width="5.864" height="17" fill="#0030ff"/>
<rect x="10.528" y="586" width="5.864" height="17" fill="#0000d6"/>
<rect x="0.000" y="603" width="5.864" height="18" fill="#53ffa4"/>
<rect x="5.264" y="603" width="5.864" height="18" fill="#66ff90"/>
<rect x="10.528" y="603" width="5.864" height="18" fill="#00e4f8"/>
<rect x="0.000" y="621" width="5.864" height="18" fill="#0000f1"/>
<rect x="5.264" y="621" width="5.864" height="18" fill="#0000ff"/>
<rect x="10.528" y="621" width="5.864" height="18" fill="#000080"/>
<rect x="0.000" y="639" width="5.864" height="18" fill="#00ccff"/>
<rect x="5.264" y="639" width="5.864" height="18" fill="#16ffe1"/>
<rect x="10.528" y="639" width="5.864" height="18" fill="#0064ff"/>
<rect x="0.000" y="657" width="11.128" height="18" fill="#e4ff13"/>
<rect x="10.528" y="657" width="5.864" height="18" fill="#baff3c"/>
<rect x="0.000" y="675" width="11.128" height="18" fill="#90ff66"/>
<rect x="10.528" y="675" width="5.864" height="18" fill="#3cffba"/>
<rect x="0.000" y="693" width="5.864" height="18" fill="#29ffce"/>
<rect x="5.264" y="693" width="5.864" height="18" fill="#66ff90"/>
<rect x="10.528" y="693" width="5.864" height="18" fill="#00ccff"/>
<rect x="0.000" y="711" width="5.864" height="18" fill="#0064ff"/>
<rect x="5.264" y="711" width="5.864" height="18" fill="#0080ff"/>
<rect x="10.528" y="711" width="5.864" height="18" fill="#0018ff"/>
<rect x="0.000" y="729" width="11.128" height="18" fill="#00b0ff"/>
<rect x="10.528" y="729" width="5.864" height="18" fill="#0030ff"/>
<rect x="0.000" y="747" width="5.864" height="18" fill="#00ccff"/>
<rect x="5.264" y="747" width="5.864" height="18" fill="#3cffba"/>
<rect x="10.528" y="747" width="5.864" height="18" fill="#0080ff"/>
<rect x="0.000" y="765" width="11.128" height="18" fill="#0000ff"/>
<rect x="10.528" y="765" width="5.864" height="18" fill="#0000b6"/>
<rect x="0.000" y="783" width="5.864" height="17" fill="#0000ff"/>
<rect x="5.264" y="783" width="5.864" height="17" fill="#0030ff"/>
<rect x="10.528" y="783" width="5.864" height="17" fill="#0000d6"/>
<rect x="0.000" y="800" width="5.864" height="18" fill="#0030ff"/>
<rect x="5.264" y="800" width="5.864" height="18" fill="#0064ff"/>
<rect x="10.528" y="800" width="5.864" height="18" fill="#0000f1"/>
<rect x="0.000" y="818" width="5.864" height="18" fill="#0030ff"/>
<rect x="5.264" y="818" width="5.864" height="18" fill="#0064ff"/>
<rect x="10.528" y="818" width="5.864" height="18" fill="#0000d6"/>
<rect x="0.000" y="836" width="11.128" height="18" fill="#16ffe1"/>
<rect x="10.528" y="836" width="5.864" height="18" fill="#0080ff"/>
<rect x="0.000" y="854" width="5.864" height="18" fill="#29ffce"/>
<rect x="5.264" y="854" width="5.864" height="18" fill="#7dff7a"/>
<rect x="10.528" y="854" width="5.864" height="18" fill="#00ccff"/>
<rect x="0.000" y="872" width="5.864" height="18" fill="#7dff7a"/>
<rect x="5.264" y="872" width="5.864" height="18" fill="#90ff66"/>
<rect x="10.528" y="872" width="5.864" height="18" fill="#66ff90"/>
</g>
</defs>
<g shape-rendering="crispEdges"><clipPath id="cp"><rect x="250" y="120" width="1395" height="770"/></clipPath><g clip-path="url(#cp)">
<use href="#clipA" x="250.000"/>
<use href="#clipA" x="292.113"/>
<use href="#clipA" x="334.226"/>
<use href="#clipA" x="376.340"/>
<use href="#clipA" x="418.453"/>
<use href="#clipA" x="460.566"/>
<use href="#clipA" x="502.679"/>
<use href="#clipA" x="544.792"/>
<use href="#clipB" x="586.906"/>
<use href="#clipB" x="629.019"/>
<use href="#clipB" x="671.132"/>
<use href="#clipB" x="713.245"/>
<use href="#clipB" x="755.358"/>
<use href="#clipB" x="797.472"/>
<use href="#clipB" x="839.585"/>
<use href="#clipB" x="881.698"/>
<use href="#clipC" x="923.811"/>
<use href="#clipC" x="965.925"/>
<use href="#clipC" x="1008.038"/>
<use href="#clipC" x="1050.151"/>
<use href="#clipC" x="1092.264"/>
<use href="#clipC" x="1134.377"/>
<use href="#clipC" x="1176.491"/>
<use href="#clipC" x="1218.604"/>
<use href="#clipD" x="1260.717"/>
<use href="#clipD" x="1302.830"/>
<use href="#clipD" x="1344.943"/>
<use href="#clipD" x="1387.057"/>
<use href="#clipD" x="1429.170"/>
<use href="#clipD" x="1471.283"/>
<use href="#clipD" x="1513.396"/>
<use href="#clipD" x="1555.509"/>
<use href="#clipE" x="1597.623"/>
<use href="#clipE" x="1613.415"/>
<use href="#clipE" x="1629.208"/>
</g></g>
<rect x="250.5" y="120.5" width="1395" height="770" fill="none" stroke="#000" stroke-width="1"/>
<g stroke="#000" stroke-width="1">
<line x1="245.6" y1="128.5" x2="250" y2="128.5"/>
<line x1="245.6" y1="146.5" x2="250" y2="146.5"/>
<line x1="245.6" y1="164.5" x2="250" y2="164.5"/>
<line x1="245.6" y1="182.5" x2="250" y2="182.5"/>
<line x1="245.6" y1="200.5" x2="250" y2="200.5"/>
<line x1="245.6" y1="218.5" x2="250" y2="218.5"/>
<line x1="245.6" y1="236.5" x2="250" y2="236.5"/>
<line x1="245.6" y1="254.5" x2="250" y2="254.5"/>
<line x1="245.6" y1="272.5" x2="250" y2="272.5"/>
<line x1="245.6" y1="290.5" x2="250" y2="290.5"/>
<line x1="245.6" y1="308.5" x2="250" y2="308.5"/>
<line x1="245.6" y1="325.5" x2="250" y2="325.5"/>
<line x1="245.6" y1="343.5" x2="250" y2="343.5"/>
<line x1="245.6" y1="361.5" x2="250" y2="361.5"/>
<line x1="245.6" y1="379.5" x2="250" y2="379.5"/>
<line x1="245.6" y1="397.5" x2="250" y2="397.5"/>
<line x1="245.6" y1="415.5" x2="250" y2="415.5"/>
<line x1="245.6" y1="433.5" x2="250" y2="433.5"/>
<line x1="245.6" y1="451.5" x2="250" y2="451.5"/>
<line x1="245.6" y1="469.5" x2="250" y2="469.5"/>
<line x1="245.6" y1="487.5" x2="250" y2="487.5"/>
<line x1="245.6" y1="505.5" x2="250" y2="505.5"/>
<line x1="245.6" y1="522.5" x2="250" y2="522.5"/>
<line x1="245.6" y1="540.5" x2="250" y2="540.5"/>
<line x1="245.6" y1="558.5" x2="250" y2="558.5"/>
<line x1="245.6" y1="576.5" x2="250" y2="576.5"/>
<line x1="245.6" y1="594.5" x2="250" y2="594.5"/>
<line x1="245.6" y1="612.5" x2="250" y2="612.5"/>
<line x1="245.6" y1="630.5" x2="250" y2="630.5"/>
<line x1="245.6" y1="648.5" x2="250" y2="648.5"/>
<line x1="245.6" y1="666.5" x2="250" y2="666.5"/>
<line x1="245.6" y1="684.5" x2="250" y2="684.5"/>
<line x1="245.6" y1="701.5" x2="250" y2="701.5"/>
<line x1="245.6" y1="719.5" x2="250" y2="719.5"/>
<line x1="245.6" y1="737.5" x2="250" y2="737.5"/>
<line x1="245.6" y1="755.5" x2="250" y2="755.5"/>
<line x1="245.6" y1="773.5" x2="250" y2="773.5"/>
<line x1="245.6" y1="791.5" x2="250" y2="791.5"/>
<line x1="245.6" y1="809.5" x2="250" y2="809.5"/>
<line x1="245.6" y1="827.5" x2="250" y2="827.5"/>
<line x1="245.6" y1="845.5" x2="250" y2="845.5"/>
<line x1="245.6" y1="863.5" x2="250" y2="863.5"/>
<line x1="245.6" y1="881.5" x2="250" y2="881.5"/>
<line x1="250.5" y1="891" x2="250.5" y2="895.4"/>
<line x1="552.5" y1="891" x2="552.5" y2="895.4"/>
<line x1="854.5" y1="891" x2="854.5" y2="895.4"/>
<line x1="1156.5" y1="891" x2="1156.5" y2="895.4"/>
<line x1="1458.5" y1="891" x2="1458.5" y2="895.4"/>
<line x1="1761.5" y1="120.5" x2="1766.5" y2="120.5"/>
<line x1="1761.5" y1="274.5" x2="1766.5" y2="274.5"/>
<line x1="1761.5" y1="428.5" x2="1766.5" y2="428.5"/>
<line x1="1761.5" y1="582.5" x2="1766.5" y2="582.5"/>
<line x1="1761.5" y1="736.5" x2="1766.5" y2="736.5"/>
<line x1="1761.5" y1="890.5" x2="1766.5" y2="890.5"/>
</g>
<g font-size="14px">
<text x="239.2" y="134.85" text-anchor="end" textLength="32.95" lengthAdjust="spacingAndGlyphs">ALFL</text>
<text x="239.2" y="152.76" text-anchor="end" textLength="42.03" lengthAdjust="spacingAndGlyphs">AMRO</text>
<text x="239.2" y="170.67" text-anchor="end" textLength="34.03" lengthAdjust="spacingAndGlyphs">ATSP</text>
<text x="239.2" y="188.57" text-anchor="end" textLength="45.70" lengthAdjust="spacingAndGlyphs">BAWW</text>
<text x="239.2" y="206.48" text-anchor="end" textLength="33.55" lengthAdjust="spacingAndGlyphs">BHVI</text>
<text x="239.2" y="224.39" text-anchor="end" textLength="39.98" lengthAdjust="spacingAndGlyphs">BLBW</text>
<text x="239.2" y="242.30" text-anchor="end" textLength="39.34" lengthAdjust="spacingAndGlyphs">BLPW</text>
<text x="239.2" y="260.20" text-anchor="end" textLength="40.72" lengthAdjust="spacingAndGlyphs">BTBW</text>
<text x="239.2" y="278.11" text-anchor="end" textLength="42.08" lengthAdjust="spacingAndGlyphs">BTNW</text>
<text x="239.2" y="296.02" text-anchor="end" textLength="40.61" lengthAdjust="spacingAndGlyphs">CAGO</text>
<text x="239.2" y="313.92" text-anchor="end" textLength="40.91" lengthAdjust="spacingAndGlyphs">CAWA</text>
<text x="239.2" y="331.83" text-anchor="end" textLength="37.09" lengthAdjust="spacingAndGlyphs">COYE</text>
<text x="239.2" y="349.74" text-anchor="end" textLength="40.97" lengthAdjust="spacingAndGlyphs">CSWA</text>
<text x="239.2" y="367.64" text-anchor="end" textLength="33.70" lengthAdjust="spacingAndGlyphs">DEJU</text>
<text x="239.2" y="385.55" text-anchor="end" textLength="39.62" lengthAdjust="spacingAndGlyphs">EWPE</text>
<text x="239.2" y="403.46" text-anchor="end" textLength="36.09" lengthAdjust="spacingAndGlyphs">FOSP</text>
<text x="239.2" y="421.37" text-anchor="end" textLength="36.16" lengthAdjust="spacingAndGlyphs">GCFL</text>
<text x="239.2" y="439.27" text-anchor="end" textLength="33.62" lengthAdjust="spacingAndGlyphs">GCKI</text>
<text x="239.2" y="457.18" text-anchor="end" textLength="39.34" lengthAdjust="spacingAndGlyphs">GCTH</text>
<text x="239.2" y="475.09" text-anchor="end" textLength="32.22" lengthAdjust="spacingAndGlyphs">LEFL</text>
<text x="239.2" y="492.99" text-anchor="end" textLength="29.02" lengthAdjust="spacingAndGlyphs">LISP</text>
<text x="239.2" y="510.90" text-anchor="end" textLength="43.19" lengthAdjust="spacingAndGlyphs">MAWA</text>
<text x="239.2" y="528.81" text-anchor="end" textLength="41.59" lengthAdjust="spacingAndGlyphs">NAWA</text>
<text x="239.2" y="546.71" text-anchor="end" textLength="37.02" lengthAdjust="spacingAndGlyphs">NOFL</text>
<text x="239.2" y="564.62" text-anchor="end" textLength="38.30" lengthAdjust="spacingAndGlyphs">NOPA</text>
<text x="239.2" y="582.53" text-anchor="end" textLength="43.77" lengthAdjust="spacingAndGlyphs">NOWA</text>
<text x="239.2" y="600.43" text-anchor="end" textLength="35.45" lengthAdjust="spacingAndGlyphs">OSFL</text>
<text x="239.2" y="618.34" text-anchor="end" textLength="39.31" lengthAdjust="spacingAndGlyphs">OVEN</text>
<text x="239.2" y="636.25" text-anchor="end" textLength="39.30" lengthAdjust="spacingAndGlyphs">RBGR</text>
<text x="239.2" y="654.16" text-anchor="end" textLength="31.77" lengthAdjust="spacingAndGlyphs">RCKI</text>
<text x="239.2" y="672.06" text-anchor="end" textLength="40.11" lengthAdjust="spacingAndGlyphs">RWBL</text>
<text x="239.2" y="689.97" text-anchor="end" textLength="36.00" lengthAdjust="spacingAndGlyphs">SAVS</text>
<text x="239.2" y="707.88" text-anchor="end" textLength="36.92" lengthAdjust="spacingAndGlyphs">SOSP</text>
<text x="239.2" y="725.78" text-anchor="end" textLength="41.44" lengthAdjust="spacingAndGlyphs">SWTH</text>
<text x="239.2" y="743.69" text-anchor="end" textLength="39.70" lengthAdjust="spacingAndGlyphs">TEWA</text>
<text x="239.2" y="761.60" text-anchor="end" textLength="35.69" lengthAdjust="spacingAndGlyphs">TRES</text>
<text x="239.2" y="779.50" text-anchor="end" textLength="36.67" lengthAdjust="spacingAndGlyphs">VEER</text>
<text x="239.2" y="797.41" text-anchor="end" textLength="40.59" lengthAdjust="spacingAndGlyphs">WCSP</text>
<text x="239.2" y="815.32" text-anchor="end" textLength="41.17" lengthAdjust="spacingAndGlyphs">WIWR</text>
<text x="239.2" y="833.23" text-anchor="end" textLength="39.38" lengthAdjust="spacingAndGlyphs">WTSP</text>
<text x="239.2" y="851.13" text-anchor="end" textLength="33.70" lengthAdjust="spacingAndGlyphs">YBFL</text>
<text x="239.2" y="869.04" text-anchor="end" textLength="36.30" lengthAdjust="spacingAndGlyphs">YBSA</text>
<text x="239.2" y="886.95" text-anchor="end" textLength="40.08" lengthAdjust="spacingAndGlyphs">YRWA</text>
<text x="250.00" y="911.2" text-anchor="middle" textLength="8.83" lengthAdjust="spacingAndGlyphs">0</text>
<text x="551.95" y="911.2" text-anchor="middle" textLength="26.48" lengthAdjust="spacingAndGlyphs">200</text>
<text x="853.90" y="911.2" text-anchor="middle" textLength="26.48" lengthAdjust="spacingAndGlyphs">400</text>
<text x="1155.84" y="911.2" text-anchor="middle" textLength="26.48" lengthAdjust="spacingAndGlyphs">600</text>
<text x="1457.79" y="911.2" text-anchor="middle" textLength="26.48" lengthAdjust="spacingAndGlyphs">800</text>
<text x="1771.3" y="126.10" textLength="8.83" lengthAdjust="spacingAndGlyphs">0</text>
<text x="1771.3" y="280.10" textLength="20.45" lengthAdjust="spacingAndGlyphs">−2</text>
<text x="1771.3" y="434.10" textLength="20.45" lengthAdjust="spacingAndGlyphs">−4</text>
<text x="1771.3" y="588.10" textLength="20.45" lengthAdjust="spacingAndGlyphs">−6</text>
<text x="1771.3" y="742.10" textLength="20.45" lengthAdjust="spacingAndGlyphs">−8</text>
<text x="1771.3" y="896.10" textLength="29.28" lengthAdjust="spacingAndGlyphs">−10</text>
<text x="947.5" y="931" text-anchor="middle" textLength="72.64" lengthAdjust="spacingAndGlyphs">Time (sec)</text>
<text transform="translate(185.8,506) rotate(-90)" text-anchor="middle" textLength="53.41" lengthAdjust="spacingAndGlyphs">Species</text>
<text transform="translate(1815.6,506) rotate(-90)" text-anchor="middle" textLength="101.44" lengthAdjust="spacingAndGlyphs">logit level (dB)</text>
</g>
<text x="947.5" y="111.8" font-size="17px" text-anchor="middle" textLength="149.22" lengthAdjust="spacingAndGlyphs">Species over time</text>
<rect x="1723.5" y="120.5" width="38" height="770" fill="url(#cb)" stroke="#000" stroke-width="1"/>
</svg></body></html>
